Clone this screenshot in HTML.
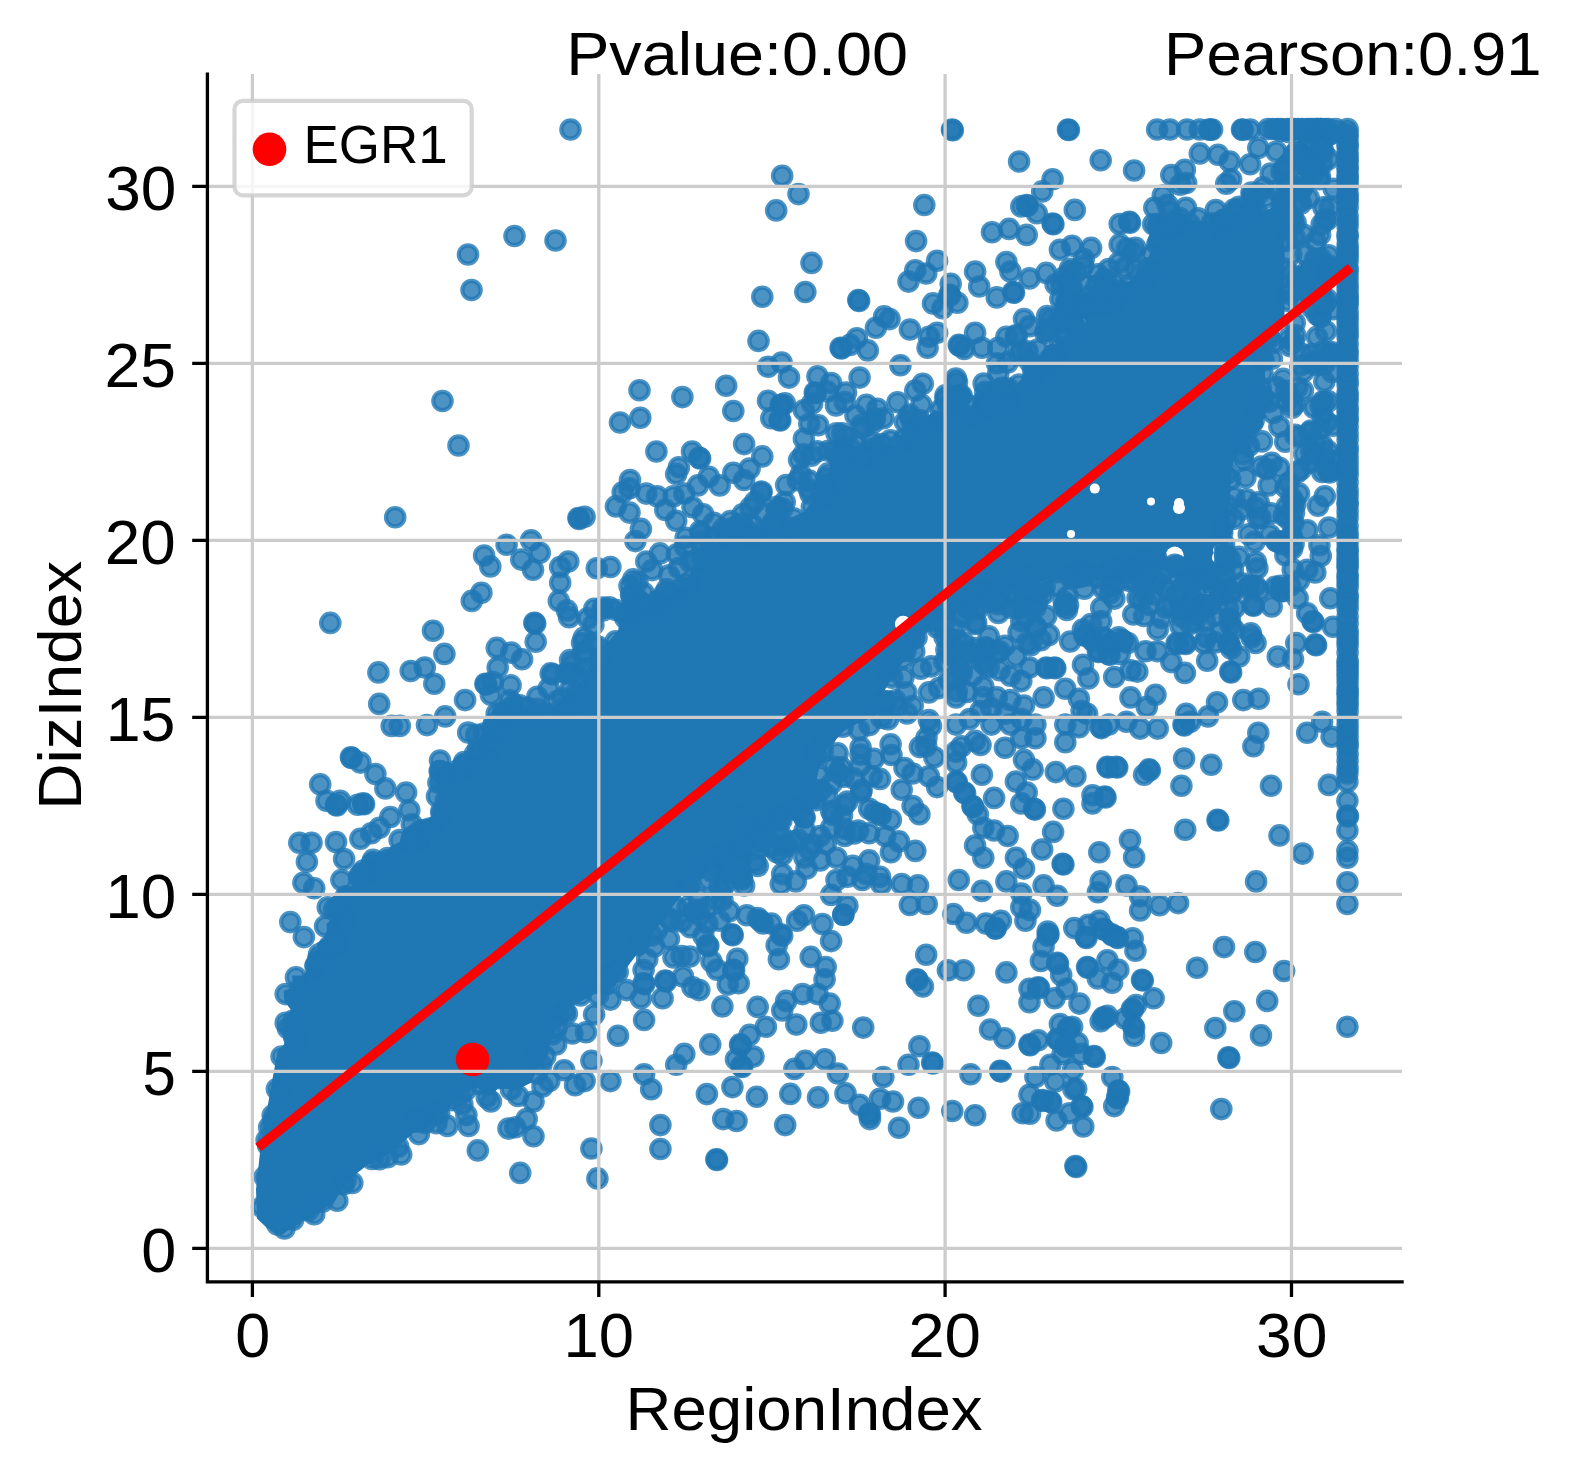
<!DOCTYPE html>
<html lang="en"><head><meta charset="utf-8"><title>RegionIndex vs DizIndex</title>
<style>html,body{margin:0;padding:0;background:#fff}body{width:1574px;height:1472px;overflow:hidden}svg{display:block}text{font-family:"Liberation Sans",sans-serif;fill:#000}.d{fill:#1f77b4;fill-opacity:.8;stroke:#1f77b4;stroke-opacity:.8;stroke-width:4.2}.g{stroke:#cccccc;stroke-width:3.3;fill:none}.k{stroke:#000;stroke-width:3.3;fill:none}</style></head><body>
<svg width="1574" height="1472" viewBox="0 0 1574 1472">
<rect width="1574" height="1472" fill="#fff"/>
<defs><clipPath id="ax"><rect x="207.4" y="74.0" width="1194.6" height="1207.9"/></clipPath></defs>
<g clip-path="url(#ax)">
<path d="M1284.5 197.0L1274.0 206.5L1245.5 219.5L1230.5 220.0L1213.5 223.5L1178.0 217.5L1168.5 221.5L1159.0 235.5L1143.5 267.0L1122.0 288.5L1104.0 296.0L1092.0 296.0L1082.0 293.0L1070.0 302.5L1069.0 325.0L1062.0 340.5L1049.5 351.5L1045.0 361.0L1036.5 371.0L1020.0 380.5L1007.5 394.5L994.0 401.0L977.0 404.0L959.0 412.5L944.5 413.0L934.0 410.0L914.5 430.5L889.5 448.5L873.5 456.5L864.5 459.0L852.5 459.0L837.0 453.0L832.0 460.0L828.0 474.5L816.0 497.0L803.5 512.0L790.0 518.5L777.0 520.0L728.5 537.5L709.0 547.5L697.5 559.0L689.5 574.0L665.0 601.5L651.5 608.0L635.5 609.0L624.0 615.5L618.0 630.5L610.0 640.0L601.0 646.0L597.5 653.5L590.5 661.5L583.0 678.5L575.0 686.5L568.5 690.0L559.5 702.0L549.5 708.0L541.5 710.0L521.5 710.5L508.5 707.0L501.5 716.5L486.0 727.0L478.5 747.5L473.0 755.5L440.5 771.5L436.0 778.5L438.0 796.5L432.5 815.0L402.0 840.5L391.0 846.5L378.5 860.5L357.0 866.5L354.0 883.5L349.5 887.0L342.0 886.5L338.0 890.5L333.0 902.0L326.5 907.5L334.0 916.0L333.0 919.5L326.5 923.5L327.0 938.0L316.5 943.0L318.0 949.5L305.0 973.0L301.5 975.5L292.0 975.5L293.5 987.0L283.5 991.0L284.5 1001.5L291.5 1010.5L283.0 1018.5L282.0 1029.5L287.5 1040.5L277.5 1051.5L261.0 1143.0L256.0 1189.5L257.0 1218.5L267.0 1228.0L281.5 1234.5L334.5 1202.0L342.0 1189.0L354.5 1175.0L367.5 1165.0L393.0 1151.5L425.0 1122.0L448.0 1112.0L452.5 1103.0L468.5 1089.5L477.5 1088.0L486.5 1095.5L491.0 1095.5L498.5 1088.0L516.5 1090.0L531.5 1082.5L537.0 1069.5L544.5 1064.0L546.5 1053.0L559.0 1020.5L574.5 1005.0L603.0 989.5L619.0 978.0L678.0 899.5L725.0 853.5L736.5 845.0L771.5 826.5L820.5 806.0L817.0 791.5L817.0 777.5L821.0 761.0L826.5 750.0L844.0 731.0L857.0 723.5L875.5 716.5L884.0 691.5L895.5 672.0L927.5 631.5L941.5 619.0L965.0 608.0L989.0 594.0L1016.5 585.5L1051.5 578.5L1070.0 577.5L1094.0 581.0L1144.5 569.5L1164.0 570.0L1202.5 577.5L1215.0 575.5L1225.0 561.0L1227.0 550.0L1231.5 472.0L1234.0 459.5L1246.0 435.5L1255.0 425.5L1265.0 418.0L1265.0 336.5L1284.5 321.0Z" fill="#1f77b4" fill-rule="evenodd"/>
<circle cx="1094.8" cy="488.6" r="5.0" fill="#fff"/>
<circle cx="1179.0" cy="508.0" r="6.0" fill="#fff"/>
<circle cx="1179.0" cy="503.0" r="5.0" fill="#fff"/>
<circle cx="1174.7" cy="555.6" r="9.0" fill="#fff"/>
<circle cx="1179.0" cy="566.0" r="6.0" fill="#fff"/>
<circle cx="1219.0" cy="557.8" r="7.0" fill="#fff"/>
<circle cx="1219.0" cy="550.0" r="6.0" fill="#fff"/>
<circle cx="1255.7" cy="549.0" r="6.0" fill="#fff"/>
<circle cx="1071.0" cy="534.0" r="4.0" fill="#fff"/>
<circle cx="1151.0" cy="501.6" r="4.0" fill="#fff"/>
<circle cx="776.7" cy="512.6" r="8.7" fill="#fff"/>
<circle cx="903.1" cy="624.0" r="8.2" fill="#fff"/>
<circle cx="903.1" cy="682.4" r="4.3" fill="#fff"/>
<circle cx="646.3" cy="524.8" r="8.2" fill="#fff"/>
<circle cx="1070.8" cy="311.0" r="6.0" fill="#fff"/>
<circle cx="1081.6" cy="323.2" r="4.9" fill="#fff"/>
<circle cx="986.0" cy="624.0" r="6.0" fill="#fff"/>
<circle cx="1024.0" cy="610.4" r="6.0" fill="#fff"/>
<g class="d">
<circle cx="1129.9" cy="580.9" r="9.2"/><circle cx="573.9" cy="703.0" r="9.2"/><circle cx="752.8" cy="525.3" r="9.2"/><circle cx="759.2" cy="848.4" r="9.2"/><circle cx="776.9" cy="852.3" r="9.2"/><circle cx="654.5" cy="946.6" r="9.2"/><circle cx="1304.1" cy="453.7" r="9.2"/><circle cx="1104.2" cy="279.3" r="9.2"/><circle cx="705.1" cy="862.1" r="9.2"/><circle cx="1246.6" cy="499.4" r="9.2"/><circle cx="345.7" cy="918.3" r="9.2"/><circle cx="573.1" cy="673.5" r="9.2"/><circle cx="1261.9" cy="441.4" r="9.2"/><circle cx="793.9" cy="518.3" r="9.2"/><circle cx="1253.9" cy="211.8" r="9.2"/><circle cx="657.5" cy="601.1" r="9.2"/><circle cx="1290.2" cy="585.8" r="9.2"/><circle cx="742.1" cy="523.6" r="9.2"/><circle cx="1096.7" cy="285.8" r="9.2"/><circle cx="1329.7" cy="207.3" r="9.2"/><circle cx="706.2" cy="561.5" r="9.2"/><circle cx="1009.1" cy="400.9" r="9.2"/><circle cx="1083.2" cy="265.9" r="9.2"/><circle cx="1224.1" cy="544.2" r="9.2"/><circle cx="1291.8" cy="535.6" r="9.2"/><circle cx="288.0" cy="1028.2" r="9.2"/><circle cx="273.6" cy="1127.2" r="9.2"/><circle cx="687.5" cy="907.1" r="9.2"/><circle cx="1285.2" cy="441.8" r="9.2"/><circle cx="914.3" cy="651.4" r="9.2"/><circle cx="883.4" cy="705.0" r="9.2"/><circle cx="371.1" cy="864.9" r="9.2"/><circle cx="1220.2" cy="223.1" r="9.2"/><circle cx="1011.0" cy="593.3" r="9.2"/><circle cx="920.8" cy="430.7" r="9.2"/><circle cx="626.2" cy="613.2" r="9.2"/><circle cx="301.1" cy="987.4" r="9.2"/><circle cx="880.2" cy="459.3" r="9.2"/><circle cx="550.5" cy="714.4" r="9.2"/><circle cx="1127.0" cy="248.6" r="9.2"/><circle cx="1086.0" cy="575.8" r="9.2"/><circle cx="687.2" cy="883.6" r="9.2"/><circle cx="1320.0" cy="177.0" r="9.2"/><circle cx="1308.7" cy="278.9" r="9.2"/><circle cx="293.8" cy="1020.3" r="9.2"/><circle cx="615.0" cy="971.3" r="9.2"/><circle cx="1303.8" cy="179.0" r="9.2"/><circle cx="937.0" cy="627.5" r="9.2"/><circle cx="1195.4" cy="614.7" r="9.2"/><circle cx="1285.8" cy="223.8" r="9.2"/><circle cx="1294.8" cy="322.8" r="9.2"/><circle cx="617.7" cy="971.9" r="9.2"/><circle cx="1316.8" cy="129.0" r="9.2"/><circle cx="609.2" cy="607.3" r="9.2"/><circle cx="445.6" cy="800.4" r="9.2"/><circle cx="271.4" cy="1148.4" r="9.2"/><circle cx="1286.5" cy="540.0" r="9.2"/><circle cx="1234.0" cy="209.6" r="9.2"/><circle cx="826.4" cy="478.1" r="9.2"/><circle cx="1132.7" cy="569.2" r="9.2"/><circle cx="799.1" cy="459.9" r="9.2"/><circle cx="1157.7" cy="226.7" r="9.2"/><circle cx="1262.2" cy="359.3" r="9.2"/><circle cx="594.3" cy="608.7" r="9.2"/><circle cx="359.4" cy="878.8" r="9.2"/><circle cx="1078.2" cy="569.4" r="9.2"/><circle cx="1307.5" cy="168.1" r="9.2"/><circle cx="915.3" cy="390.5" r="9.2"/><circle cx="836.0" cy="405.4" r="9.2"/><circle cx="658.4" cy="605.6" r="9.2"/><circle cx="514.0" cy="705.2" r="9.2"/><circle cx="1045.2" cy="333.1" r="9.2"/><circle cx="987.0" cy="648.9" r="9.2"/><circle cx="564.4" cy="1010.8" r="9.2"/><circle cx="339.4" cy="926.2" r="9.2"/><circle cx="1333.7" cy="188.7" r="9.2"/><circle cx="1320.4" cy="292.0" r="9.2"/><circle cx="747.0" cy="831.3" r="9.2"/><circle cx="844.2" cy="805.3" r="9.2"/><circle cx="1324.8" cy="363.7" r="9.2"/><circle cx="895.4" cy="700.4" r="9.2"/><circle cx="919.9" cy="747.1" r="9.2"/><circle cx="931.2" cy="666.4" r="9.2"/><circle cx="836.0" cy="482.7" r="9.2"/><circle cx="1268.7" cy="485.4" r="9.2"/><circle cx="1154.3" cy="207.8" r="9.2"/><circle cx="1066.4" cy="319.9" r="9.2"/><circle cx="1156.6" cy="559.1" r="9.2"/><circle cx="1283.2" cy="378.9" r="9.2"/><circle cx="550.7" cy="1018.9" r="9.2"/><circle cx="570.1" cy="660.1" r="9.2"/><circle cx="643.5" cy="604.5" r="9.2"/><circle cx="1302.5" cy="187.1" r="9.2"/><circle cx="492.9" cy="682.1" r="9.2"/><circle cx="637.4" cy="581.9" r="9.2"/><circle cx="1309.3" cy="141.5" r="9.2"/><circle cx="694.8" cy="870.6" r="9.2"/><circle cx="921.4" cy="404.7" r="9.2"/><circle cx="1046.3" cy="330.4" r="9.2"/><circle cx="584.5" cy="651.7" r="9.2"/><circle cx="1301.5" cy="189.2" r="9.2"/><circle cx="1276.2" cy="541.0" r="9.2"/><circle cx="1287.5" cy="300.8" r="9.2"/><circle cx="722.0" cy="891.6" r="9.2"/><circle cx="999.9" cy="582.5" r="9.2"/><circle cx="998.3" cy="612.9" r="9.2"/><circle cx="858.9" cy="730.3" r="9.2"/><circle cx="1251.5" cy="192.6" r="9.2"/><circle cx="1124.7" cy="565.0" r="9.2"/><circle cx="779.9" cy="833.2" r="9.2"/><circle cx="1270.7" cy="173.6" r="9.2"/><circle cx="1253.6" cy="420.6" r="9.2"/><circle cx="1294.8" cy="237.8" r="9.2"/><circle cx="797.8" cy="480.2" r="9.2"/><circle cx="1295.6" cy="222.4" r="9.2"/><circle cx="1314.7" cy="163.5" r="9.2"/><circle cx="1286.7" cy="187.8" r="9.2"/><circle cx="580.5" cy="995.5" r="9.2"/><circle cx="1037.8" cy="349.5" r="9.2"/><circle cx="1186.1" cy="183.0" r="9.2"/><circle cx="1313.9" cy="407.8" r="9.2"/><circle cx="777.8" cy="814.2" r="9.2"/><circle cx="295.4" cy="1044.6" r="9.2"/><circle cx="951.3" cy="419.1" r="9.2"/><circle cx="1007.7" cy="362.4" r="9.2"/><circle cx="276.2" cy="1118.5" r="9.2"/><circle cx="632.4" cy="605.3" r="9.2"/><circle cx="1269.1" cy="402.1" r="9.2"/><circle cx="1033.1" cy="369.4" r="9.2"/><circle cx="1262.9" cy="187.4" r="9.2"/><circle cx="716.0" cy="867.8" r="9.2"/><circle cx="772.2" cy="523.2" r="9.2"/><circle cx="945.1" cy="610.0" r="9.2"/><circle cx="1066.9" cy="609.9" r="9.2"/><circle cx="943.7" cy="625.4" r="9.2"/><circle cx="1047.2" cy="316.1" r="9.2"/><circle cx="957.4" cy="406.9" r="9.2"/><circle cx="1315.7" cy="362.2" r="9.2"/><circle cx="1289.2" cy="338.1" r="9.2"/><circle cx="582.1" cy="643.0" r="9.2"/><circle cx="1331.1" cy="352.1" r="9.2"/><circle cx="1237.6" cy="210.8" r="9.2"/><circle cx="514.3" cy="714.2" r="9.2"/><circle cx="1332.1" cy="371.9" r="9.2"/><circle cx="818.2" cy="425.2" r="9.2"/><circle cx="1322.8" cy="264.4" r="9.2"/><circle cx="1142.0" cy="562.9" r="9.2"/><circle cx="724.4" cy="865.2" r="9.2"/><circle cx="959.8" cy="398.1" r="9.2"/><circle cx="1258.6" cy="502.3" r="9.2"/><circle cx="1313.7" cy="173.5" r="9.2"/><circle cx="460.5" cy="1094.8" r="9.2"/><circle cx="726.0" cy="541.5" r="9.2"/><circle cx="1314.7" cy="157.4" r="9.2"/><circle cx="1171.9" cy="606.3" r="9.2"/><circle cx="1233.8" cy="518.7" r="9.2"/><circle cx="1055.6" cy="284.2" r="9.2"/><circle cx="1082.9" cy="629.5" r="9.2"/><circle cx="1286.8" cy="506.4" r="9.2"/><circle cx="1285.4" cy="555.2" r="9.2"/><circle cx="1297.3" cy="387.5" r="9.2"/><circle cx="1291.2" cy="254.5" r="9.2"/><circle cx="676.9" cy="554.3" r="9.2"/><circle cx="847.3" cy="801.6" r="9.2"/><circle cx="1127.9" cy="286.9" r="9.2"/><circle cx="1300.2" cy="365.4" r="9.2"/><circle cx="966.2" cy="606.7" r="9.2"/><circle cx="480.3" cy="751.9" r="9.2"/><circle cx="959.9" cy="395.6" r="9.2"/><circle cx="787.5" cy="527.3" r="9.2"/><circle cx="1058.4" cy="321.6" r="9.2"/><circle cx="753.7" cy="537.8" r="9.2"/><circle cx="1302.4" cy="354.1" r="9.2"/><circle cx="1294.5" cy="404.3" r="9.2"/><circle cx="456.6" cy="771.0" r="9.2"/><circle cx="804.4" cy="857.5" r="9.2"/><circle cx="1196.8" cy="571.4" r="9.2"/><circle cx="944.5" cy="609.9" r="9.2"/><circle cx="333.8" cy="946.4" r="9.2"/><circle cx="983.1" cy="401.5" r="9.2"/><circle cx="1275.3" cy="586.7" r="9.2"/><circle cx="570.6" cy="706.9" r="9.2"/><circle cx="343.7" cy="1184.2" r="9.2"/><circle cx="1250.0" cy="220.8" r="9.2"/><circle cx="268.1" cy="1145.2" r="9.2"/><circle cx="1260.8" cy="387.8" r="9.2"/><circle cx="1276.4" cy="387.1" r="9.2"/><circle cx="983.4" cy="406.6" r="9.2"/><circle cx="851.7" cy="464.2" r="9.2"/><circle cx="1320.6" cy="129.0" r="9.2"/><circle cx="1029.7" cy="361.8" r="9.2"/><circle cx="541.3" cy="1064.8" r="9.2"/><circle cx="1053.0" cy="355.1" r="9.2"/><circle cx="985.9" cy="647.2" r="9.2"/><circle cx="842.8" cy="726.8" r="9.2"/><circle cx="1314.1" cy="157.5" r="9.2"/><circle cx="911.6" cy="439.6" r="9.2"/><circle cx="874.6" cy="812.3" r="9.2"/><circle cx="1179.9" cy="218.1" r="9.2"/><circle cx="1186.1" cy="569.1" r="9.2"/><circle cx="1180.3" cy="605.1" r="9.2"/><circle cx="1280.6" cy="585.9" r="9.2"/><circle cx="570.2" cy="689.3" r="9.2"/><circle cx="1292.1" cy="407.7" r="9.2"/><circle cx="440.0" cy="760.5" r="9.2"/><circle cx="399.6" cy="840.1" r="9.2"/><circle cx="701.5" cy="533.2" r="9.2"/><circle cx="1323.1" cy="305.3" r="9.2"/><circle cx="1020.1" cy="587.3" r="9.2"/><circle cx="1119.2" cy="292.7" r="9.2"/><circle cx="971.8" cy="416.1" r="9.2"/><circle cx="519.7" cy="705.3" r="9.2"/><circle cx="602.9" cy="607.6" r="9.2"/><circle cx="740.8" cy="857.2" r="9.2"/><circle cx="1315.4" cy="442.0" r="9.2"/><circle cx="710.9" cy="856.3" r="9.2"/><circle cx="907.0" cy="713.4" r="9.2"/><circle cx="1063.7" cy="335.6" r="9.2"/><circle cx="811.3" cy="455.8" r="9.2"/><circle cx="1223.2" cy="231.7" r="9.2"/><circle cx="854.3" cy="833.4" r="9.2"/><circle cx="637.4" cy="945.3" r="9.2"/><circle cx="1118.9" cy="262.7" r="9.2"/><circle cx="1113.8" cy="289.7" r="9.2"/><circle cx="1110.0" cy="593.2" r="9.2"/><circle cx="828.6" cy="450.8" r="9.2"/><circle cx="784.7" cy="502.1" r="9.2"/><circle cx="1262.5" cy="373.3" r="9.2"/><circle cx="419.7" cy="830.9" r="9.2"/><circle cx="1233.6" cy="230.9" r="9.2"/><circle cx="957.0" cy="400.1" r="9.2"/><circle cx="1112.4" cy="303.6" r="9.2"/><circle cx="643.6" cy="593.0" r="9.2"/><circle cx="846.1" cy="437.0" r="9.2"/><circle cx="1117.1" cy="582.4" r="9.2"/><circle cx="913.1" cy="639.0" r="9.2"/><circle cx="419.3" cy="1121.1" r="9.2"/><circle cx="1017.8" cy="355.3" r="9.2"/><circle cx="634.7" cy="613.1" r="9.2"/><circle cx="1227.7" cy="505.6" r="9.2"/><circle cx="837.9" cy="772.4" r="9.2"/><circle cx="736.2" cy="850.5" r="9.2"/><circle cx="1180.4" cy="625.8" r="9.2"/><circle cx="1330.3" cy="353.5" r="9.2"/><circle cx="538.2" cy="1048.8" r="9.2"/><circle cx="1298.1" cy="300.9" r="9.2"/><circle cx="1322.2" cy="444.7" r="9.2"/><circle cx="1254.5" cy="541.8" r="9.2"/><circle cx="1297.5" cy="472.3" r="9.2"/><circle cx="968.9" cy="608.7" r="9.2"/><circle cx="532.2" cy="715.5" r="9.2"/><circle cx="843.6" cy="776.8" r="9.2"/><circle cx="956.0" cy="397.7" r="9.2"/><circle cx="1000.3" cy="600.4" r="9.2"/><circle cx="1074.8" cy="577.7" r="9.2"/><circle cx="1162.5" cy="230.6" r="9.2"/><circle cx="1232.2" cy="224.2" r="9.2"/><circle cx="1230.2" cy="559.5" r="9.2"/><circle cx="1065.3" cy="309.0" r="9.2"/><circle cx="898.2" cy="446.1" r="9.2"/><circle cx="1259.4" cy="214.8" r="9.2"/><circle cx="1316.9" cy="365.2" r="9.2"/><circle cx="817.3" cy="451.3" r="9.2"/><circle cx="713.6" cy="537.7" r="9.2"/><circle cx="1299.0" cy="200.7" r="9.2"/><circle cx="496.1" cy="729.7" r="9.2"/><circle cx="771.4" cy="822.3" r="9.2"/><circle cx="722.4" cy="899.9" r="9.2"/><circle cx="1006.4" cy="392.0" r="9.2"/><circle cx="1276.6" cy="191.1" r="9.2"/><circle cx="329.4" cy="946.3" r="9.2"/><circle cx="821.2" cy="790.0" r="9.2"/><circle cx="386.8" cy="862.4" r="9.2"/><circle cx="1328.4" cy="158.9" r="9.2"/><circle cx="602.9" cy="610.5" r="9.2"/><circle cx="293.2" cy="1219.8" r="9.2"/><circle cx="1293.4" cy="502.4" r="9.2"/><circle cx="1295.4" cy="504.1" r="9.2"/><circle cx="678.9" cy="568.0" r="9.2"/><circle cx="1089.1" cy="295.8" r="9.2"/><circle cx="1224.5" cy="573.6" r="9.2"/><circle cx="1249.0" cy="445.8" r="9.2"/><circle cx="1103.2" cy="304.8" r="9.2"/><circle cx="983.6" cy="592.8" r="9.2"/><circle cx="753.1" cy="532.9" r="9.2"/><circle cx="804.7" cy="830.2" r="9.2"/><circle cx="1269.4" cy="338.5" r="9.2"/><circle cx="598.3" cy="646.7" r="9.2"/><circle cx="1215.8" cy="210.0" r="9.2"/><circle cx="640.2" cy="941.3" r="9.2"/><circle cx="1177.2" cy="223.2" r="9.2"/><circle cx="272.7" cy="1115.5" r="9.2"/><circle cx="910.8" cy="418.9" r="9.2"/><circle cx="904.2" cy="438.5" r="9.2"/><circle cx="335.3" cy="938.5" r="9.2"/><circle cx="625.1" cy="617.7" r="9.2"/><circle cx="800.8" cy="474.4" r="9.2"/><circle cx="1063.8" cy="601.5" r="9.2"/><circle cx="1164.8" cy="228.2" r="9.2"/><circle cx="1268.3" cy="336.0" r="9.2"/><circle cx="372.0" cy="1158.9" r="9.2"/><circle cx="877.8" cy="446.9" r="9.2"/><circle cx="755.3" cy="862.1" r="9.2"/><circle cx="890.6" cy="744.2" r="9.2"/><circle cx="489.3" cy="749.6" r="9.2"/><circle cx="379.4" cy="1159.2" r="9.2"/><circle cx="502.0" cy="717.3" r="9.2"/><circle cx="931.0" cy="725.9" r="9.2"/><circle cx="897.5" cy="402.3" r="9.2"/><circle cx="1032.4" cy="379.6" r="9.2"/><circle cx="808.8" cy="489.1" r="9.2"/><circle cx="1331.5" cy="460.2" r="9.2"/><circle cx="1046.6" cy="367.5" r="9.2"/><circle cx="786.2" cy="485.1" r="9.2"/><circle cx="1025.4" cy="616.9" r="9.2"/><circle cx="837.6" cy="753.2" r="9.2"/><circle cx="319.1" cy="954.3" r="9.2"/><circle cx="988.7" cy="636.3" r="9.2"/><circle cx="1049.8" cy="329.3" r="9.2"/><circle cx="1167.6" cy="204.8" r="9.2"/><circle cx="888.0" cy="719.2" r="9.2"/><circle cx="993.6" cy="411.4" r="9.2"/><circle cx="1327.1" cy="299.3" r="9.2"/><circle cx="723.9" cy="854.7" r="9.2"/><circle cx="725.4" cy="537.1" r="9.2"/><circle cx="558.8" cy="1016.2" r="9.2"/><circle cx="1004.5" cy="402.4" r="9.2"/><circle cx="815.3" cy="752.6" r="9.2"/><circle cx="1303.3" cy="234.6" r="9.2"/><circle cx="479.9" cy="1084.2" r="9.2"/><circle cx="897.2" cy="707.3" r="9.2"/><circle cx="1222.1" cy="527.2" r="9.2"/><circle cx="476.2" cy="734.8" r="9.2"/><circle cx="484.2" cy="733.5" r="9.2"/><circle cx="444.9" cy="773.0" r="9.2"/><circle cx="1266.6" cy="469.1" r="9.2"/><circle cx="638.6" cy="600.2" r="9.2"/><circle cx="318.0" cy="959.4" r="9.2"/><circle cx="722.9" cy="528.9" r="9.2"/><circle cx="284.5" cy="1228.4" r="9.2"/><circle cx="1305.7" cy="254.5" r="9.2"/><circle cx="1320.8" cy="428.5" r="9.2"/><circle cx="527.7" cy="707.8" r="9.2"/><circle cx="537.5" cy="708.7" r="9.2"/><circle cx="945.5" cy="399.1" r="9.2"/><circle cx="1118.7" cy="637.2" r="9.2"/><circle cx="1079.1" cy="308.5" r="9.2"/><circle cx="441.2" cy="811.8" r="9.2"/><circle cx="576.7" cy="692.0" r="9.2"/><circle cx="945.5" cy="395.4" r="9.2"/><circle cx="458.5" cy="774.6" r="9.2"/><circle cx="1286.1" cy="206.8" r="9.2"/><circle cx="1252.1" cy="195.9" r="9.2"/><circle cx="1317.0" cy="314.4" r="9.2"/><circle cx="739.8" cy="848.7" r="9.2"/><circle cx="920.8" cy="668.7" r="9.2"/><circle cx="494.8" cy="730.9" r="9.2"/><circle cx="493.4" cy="727.2" r="9.2"/><circle cx="1301.6" cy="158.1" r="9.2"/><circle cx="566.9" cy="1013.7" r="9.2"/><circle cx="810.5" cy="493.9" r="9.2"/><circle cx="1320.1" cy="234.7" r="9.2"/><circle cx="601.3" cy="658.5" r="9.2"/><circle cx="544.7" cy="713.4" r="9.2"/><circle cx="1018.8" cy="384.6" r="9.2"/><circle cx="1190.0" cy="224.2" r="9.2"/><circle cx="728.3" cy="537.6" r="9.2"/><circle cx="502.8" cy="712.2" r="9.2"/><circle cx="1292.7" cy="569.4" r="9.2"/><circle cx="957.9" cy="408.8" r="9.2"/><circle cx="537.4" cy="1051.3" r="9.2"/><circle cx="984.0" cy="663.9" r="9.2"/><circle cx="1327.2" cy="219.7" r="9.2"/><circle cx="1303.8" cy="371.2" r="9.2"/><circle cx="962.1" cy="614.5" r="9.2"/><circle cx="592.7" cy="643.2" r="9.2"/><circle cx="583.7" cy="637.9" r="9.2"/><circle cx="689.9" cy="885.0" r="9.2"/><circle cx="812.6" cy="844.3" r="9.2"/><circle cx="976.3" cy="606.4" r="9.2"/><circle cx="753.5" cy="828.7" r="9.2"/><circle cx="1322.5" cy="415.4" r="9.2"/><circle cx="1250.8" cy="633.3" r="9.2"/><circle cx="991.3" cy="392.2" r="9.2"/><circle cx="776.9" cy="506.7" r="9.2"/><circle cx="1295.0" cy="434.9" r="9.2"/><circle cx="742.0" cy="879.4" r="9.2"/><circle cx="294.8" cy="1038.4" r="9.2"/><circle cx="1325.1" cy="219.7" r="9.2"/><circle cx="1079.8" cy="571.8" r="9.2"/><circle cx="1288.8" cy="229.3" r="9.2"/><circle cx="663.9" cy="594.4" r="9.2"/><circle cx="711.9" cy="538.3" r="9.2"/><circle cx="676.2" cy="907.6" r="9.2"/><circle cx="944.5" cy="637.1" r="9.2"/><circle cx="1169.9" cy="211.5" r="9.2"/><circle cx="1079.6" cy="577.3" r="9.2"/><circle cx="1136.0" cy="573.9" r="9.2"/><circle cx="1281.8" cy="543.9" r="9.2"/><circle cx="492.6" cy="727.8" r="9.2"/><circle cx="1066.8" cy="304.1" r="9.2"/><circle cx="749.9" cy="535.9" r="9.2"/><circle cx="1152.3" cy="254.7" r="9.2"/><circle cx="313.6" cy="1203.7" r="9.2"/><circle cx="512.4" cy="717.1" r="9.2"/><circle cx="1109.6" cy="573.9" r="9.2"/><circle cx="492.5" cy="743.6" r="9.2"/><circle cx="679.4" cy="598.2" r="9.2"/><circle cx="811.9" cy="506.9" r="9.2"/><circle cx="301.4" cy="1013.2" r="9.2"/><circle cx="1263.0" cy="397.5" r="9.2"/><circle cx="1191.4" cy="581.8" r="9.2"/><circle cx="985.2" cy="391.8" r="9.2"/><circle cx="311.3" cy="982.3" r="9.2"/><circle cx="976.2" cy="622.7" r="9.2"/><circle cx="340.6" cy="904.4" r="9.2"/><circle cx="946.9" cy="422.8" r="9.2"/><circle cx="1226.0" cy="520.3" r="9.2"/><circle cx="1060.4" cy="299.1" r="9.2"/><circle cx="1044.6" cy="587.0" r="9.2"/><circle cx="316.1" cy="965.2" r="9.2"/><circle cx="1105.7" cy="280.1" r="9.2"/><circle cx="1033.7" cy="380.9" r="9.2"/><circle cx="1055.0" cy="360.4" r="9.2"/><circle cx="660.1" cy="909.2" r="9.2"/><circle cx="1050.5" cy="318.7" r="9.2"/><circle cx="590.6" cy="672.5" r="9.2"/><circle cx="685.6" cy="537.7" r="9.2"/><circle cx="633.6" cy="620.4" r="9.2"/><circle cx="872.0" cy="442.6" r="9.2"/><circle cx="1144.4" cy="559.3" r="9.2"/><circle cx="682.0" cy="588.1" r="9.2"/><circle cx="932.4" cy="621.1" r="9.2"/><circle cx="1195.8" cy="606.1" r="9.2"/><circle cx="944.5" cy="661.7" r="9.2"/><circle cx="1323.5" cy="207.4" r="9.2"/><circle cx="1182.4" cy="568.3" r="9.2"/><circle cx="1241.5" cy="509.6" r="9.2"/><circle cx="507.5" cy="712.4" r="9.2"/><circle cx="1277.4" cy="541.7" r="9.2"/><circle cx="557.0" cy="701.3" r="9.2"/><circle cx="1168.7" cy="567.9" r="9.2"/><circle cx="1320.4" cy="316.8" r="9.2"/><circle cx="1159.9" cy="238.9" r="9.2"/><circle cx="572.5" cy="663.9" r="9.2"/><circle cx="537.5" cy="716.1" r="9.2"/><circle cx="1157.3" cy="244.5" r="9.2"/><circle cx="948.9" cy="639.0" r="9.2"/><circle cx="782.3" cy="508.3" r="9.2"/><circle cx="489.5" cy="742.7" r="9.2"/><circle cx="465.9" cy="1089.9" r="9.2"/><circle cx="1310.1" cy="462.8" r="9.2"/><circle cx="499.5" cy="1078.2" r="9.2"/><circle cx="833.9" cy="766.7" r="9.2"/><circle cx="1326.5" cy="270.9" r="9.2"/><circle cx="905.5" cy="650.9" r="9.2"/><circle cx="1291.2" cy="274.3" r="9.2"/><circle cx="800.3" cy="810.8" r="9.2"/><circle cx="1326.6" cy="277.2" r="9.2"/><circle cx="280.7" cy="1094.0" r="9.2"/><circle cx="1333.2" cy="309.3" r="9.2"/><circle cx="1209.1" cy="232.4" r="9.2"/><circle cx="1198.1" cy="218.4" r="9.2"/><circle cx="397.5" cy="856.1" r="9.2"/><circle cx="1239.1" cy="206.8" r="9.2"/><circle cx="669.1" cy="575.4" r="9.2"/><circle cx="417.6" cy="841.1" r="9.2"/><circle cx="1143.3" cy="582.9" r="9.2"/><circle cx="844.2" cy="451.2" r="9.2"/><circle cx="670.8" cy="593.9" r="9.2"/><circle cx="859.5" cy="468.6" r="9.2"/><circle cx="1293.6" cy="543.6" r="9.2"/><circle cx="416.6" cy="841.3" r="9.2"/><circle cx="1322.2" cy="472.0" r="9.2"/><circle cx="440.4" cy="771.4" r="9.2"/><circle cx="1320.6" cy="258.2" r="9.2"/><circle cx="883.1" cy="456.6" r="9.2"/><circle cx="954.5" cy="629.4" r="9.2"/><circle cx="1225.1" cy="556.4" r="9.2"/><circle cx="842.2" cy="433.4" r="9.2"/><circle cx="1296.5" cy="281.3" r="9.2"/><circle cx="1174.7" cy="225.0" r="9.2"/><circle cx="631.6" cy="610.0" r="9.2"/><circle cx="1009.7" cy="404.4" r="9.2"/><circle cx="1191.3" cy="609.2" r="9.2"/><circle cx="871.3" cy="449.1" r="9.2"/><circle cx="1249.1" cy="585.9" r="9.2"/><circle cx="1204.9" cy="620.9" r="9.2"/><circle cx="606.2" cy="978.5" r="9.2"/><circle cx="850.9" cy="448.6" r="9.2"/><circle cx="867.5" cy="457.8" r="9.2"/><circle cx="1186.5" cy="606.8" r="9.2"/><circle cx="1324.3" cy="381.5" r="9.2"/><circle cx="1285.4" cy="268.9" r="9.2"/><circle cx="1315.6" cy="241.8" r="9.2"/><circle cx="550.7" cy="673.4" r="9.2"/><circle cx="372.5" cy="863.0" r="9.2"/><circle cx="1317.0" cy="336.9" r="9.2"/><circle cx="561.6" cy="714.8" r="9.2"/><circle cx="1226.4" cy="473.8" r="9.2"/><circle cx="1298.2" cy="277.4" r="9.2"/><circle cx="1321.1" cy="144.4" r="9.2"/><circle cx="1260.7" cy="353.7" r="9.2"/><circle cx="738.1" cy="860.4" r="9.2"/><circle cx="1068.4" cy="346.6" r="9.2"/><circle cx="941.9" cy="423.1" r="9.2"/><circle cx="1290.0" cy="346.1" r="9.2"/><circle cx="429.8" cy="828.6" r="9.2"/><circle cx="875.0" cy="418.5" r="9.2"/><circle cx="772.6" cy="524.7" r="9.2"/><circle cx="883.5" cy="418.3" r="9.2"/><circle cx="1034.9" cy="371.8" r="9.2"/><circle cx="975.0" cy="597.5" r="9.2"/><circle cx="758.9" cy="831.9" r="9.2"/><circle cx="1211.7" cy="223.3" r="9.2"/><circle cx="387.6" cy="858.0" r="9.2"/><circle cx="371.9" cy="1151.3" r="9.2"/><circle cx="725.4" cy="883.2" r="9.2"/><circle cx="490.4" cy="746.0" r="9.2"/><circle cx="926.5" cy="737.9" r="9.2"/><circle cx="1327.3" cy="357.0" r="9.2"/><circle cx="1071.7" cy="287.5" r="9.2"/><circle cx="337.9" cy="906.9" r="9.2"/><circle cx="1226.3" cy="588.3" r="9.2"/><circle cx="1137.7" cy="567.7" r="9.2"/><circle cx="424.3" cy="830.1" r="9.2"/><circle cx="863.8" cy="427.6" r="9.2"/><circle cx="1215.2" cy="642.4" r="9.2"/><circle cx="1290.2" cy="396.2" r="9.2"/><circle cx="1213.3" cy="592.6" r="9.2"/><circle cx="1123.6" cy="291.2" r="9.2"/><circle cx="844.6" cy="450.8" r="9.2"/><circle cx="694.1" cy="561.1" r="9.2"/><circle cx="496.7" cy="713.6" r="9.2"/><circle cx="1027.6" cy="351.3" r="9.2"/><circle cx="761.6" cy="491.6" r="9.2"/><circle cx="266.6" cy="1140.0" r="9.2"/><circle cx="1070.0" cy="272.2" r="9.2"/><circle cx="766.4" cy="836.1" r="9.2"/><circle cx="1086.6" cy="285.4" r="9.2"/><circle cx="854.0" cy="778.6" r="9.2"/><circle cx="1325.9" cy="331.2" r="9.2"/><circle cx="641.3" cy="607.4" r="9.2"/><circle cx="1135.8" cy="268.9" r="9.2"/><circle cx="1332.1" cy="470.0" r="9.2"/><circle cx="656.1" cy="612.1" r="9.2"/><circle cx="1332.8" cy="425.7" r="9.2"/><circle cx="828.1" cy="473.4" r="9.2"/><circle cx="1269.8" cy="534.7" r="9.2"/><circle cx="974.6" cy="623.9" r="9.2"/><circle cx="1288.6" cy="131.9" r="9.2"/><circle cx="903.4" cy="677.6" r="9.2"/><circle cx="1083.8" cy="259.0" r="9.2"/><circle cx="474.3" cy="767.4" r="9.2"/><circle cx="1299.2" cy="153.1" r="9.2"/><circle cx="1303.3" cy="164.6" r="9.2"/><circle cx="1029.0" cy="577.6" r="9.2"/><circle cx="737.3" cy="527.1" r="9.2"/><circle cx="1324.2" cy="456.3" r="9.2"/><circle cx="1018.3" cy="608.4" r="9.2"/><circle cx="1135.4" cy="247.8" r="9.2"/><circle cx="264.6" cy="1176.9" r="9.2"/><circle cx="509.7" cy="700.2" r="9.2"/><circle cx="1304.0" cy="158.9" r="9.2"/><circle cx="1311.7" cy="132.8" r="9.2"/><circle cx="373.0" cy="859.9" r="9.2"/><circle cx="1053.7" cy="364.3" r="9.2"/><circle cx="1123.2" cy="574.4" r="9.2"/><circle cx="660.7" cy="600.4" r="9.2"/><circle cx="924.9" cy="425.5" r="9.2"/><circle cx="902.9" cy="658.8" r="9.2"/><circle cx="1279.4" cy="426.6" r="9.2"/><circle cx="1081.6" cy="305.7" r="9.2"/><circle cx="629.7" cy="627.3" r="9.2"/><circle cx="345.7" cy="1180.0" r="9.2"/><circle cx="1272.9" cy="342.9" r="9.2"/><circle cx="1174.7" cy="564.9" r="9.2"/><circle cx="1325.8" cy="276.9" r="9.2"/><circle cx="763.5" cy="513.3" r="9.2"/><circle cx="1182.0" cy="617.0" r="9.2"/><circle cx="841.2" cy="462.8" r="9.2"/><circle cx="359.2" cy="875.9" r="9.2"/><circle cx="1283.7" cy="515.6" r="9.2"/><circle cx="411.0" cy="844.2" r="9.2"/><circle cx="922.8" cy="383.8" r="9.2"/><circle cx="1207.2" cy="577.1" r="9.2"/><circle cx="1180.2" cy="184.8" r="9.2"/><circle cx="1270.7" cy="513.3" r="9.2"/><circle cx="739.3" cy="845.9" r="9.2"/><circle cx="601.4" cy="983.8" r="9.2"/><circle cx="798.5" cy="839.7" r="9.2"/><circle cx="1022.3" cy="605.2" r="9.2"/><circle cx="928.9" cy="720.1" r="9.2"/><circle cx="873.2" cy="422.7" r="9.2"/><circle cx="1132.9" cy="252.1" r="9.2"/><circle cx="1330.1" cy="134.2" r="9.2"/><circle cx="697.7" cy="909.8" r="9.2"/><circle cx="666.8" cy="589.4" r="9.2"/><circle cx="1247.8" cy="427.5" r="9.2"/><circle cx="1271.7" cy="462.8" r="9.2"/><circle cx="1286.3" cy="390.9" r="9.2"/><circle cx="1279.4" cy="467.8" r="9.2"/><circle cx="1328.5" cy="255.3" r="9.2"/><circle cx="562.5" cy="698.3" r="9.2"/><circle cx="1253.5" cy="202.8" r="9.2"/><circle cx="548.7" cy="688.6" r="9.2"/><circle cx="1271.9" cy="358.7" r="9.2"/><circle cx="970.6" cy="652.8" r="9.2"/><circle cx="1323.5" cy="152.3" r="9.2"/><circle cx="860.6" cy="747.6" r="9.2"/><circle cx="1192.2" cy="579.8" r="9.2"/><circle cx="1286.4" cy="400.6" r="9.2"/><circle cx="890.4" cy="440.3" r="9.2"/><circle cx="738.1" cy="837.8" r="9.2"/><circle cx="1048.9" cy="360.2" r="9.2"/><circle cx="816.0" cy="756.4" r="9.2"/><circle cx="1030.7" cy="645.3" r="9.2"/><circle cx="1117.5" cy="569.2" r="9.2"/><circle cx="1210.1" cy="605.3" r="9.2"/><circle cx="1310.1" cy="294.0" r="9.2"/><circle cx="1320.6" cy="406.0" r="9.2"/><circle cx="1321.0" cy="296.9" r="9.2"/><circle cx="988.9" cy="601.7" r="9.2"/><circle cx="730.5" cy="521.1" r="9.2"/><circle cx="328.2" cy="948.7" r="9.2"/><circle cx="633.2" cy="579.4" r="9.2"/><circle cx="424.9" cy="1123.1" r="9.2"/><circle cx="1225.1" cy="553.1" r="9.2"/><circle cx="1248.8" cy="534.3" r="9.2"/><circle cx="1294.4" cy="191.1" r="9.2"/><circle cx="335.1" cy="938.9" r="9.2"/><circle cx="1153.6" cy="594.4" r="9.2"/><circle cx="1070.8" cy="302.5" r="9.2"/><circle cx="688.0" cy="886.3" r="9.2"/><circle cx="464.1" cy="764.9" r="9.2"/><circle cx="1295.4" cy="335.4" r="9.2"/><circle cx="372.9" cy="871.5" r="9.2"/><circle cx="946.4" cy="649.7" r="9.2"/><circle cx="1172.4" cy="225.4" r="9.2"/><circle cx="439.7" cy="771.0" r="9.2"/><circle cx="1288.9" cy="482.8" r="9.2"/><circle cx="1328.9" cy="265.5" r="9.2"/><circle cx="906.3" cy="692.2" r="9.2"/><circle cx="1108.7" cy="269.1" r="9.2"/><circle cx="510.6" cy="685.3" r="9.2"/><circle cx="1148.3" cy="560.1" r="9.2"/><circle cx="787.1" cy="846.5" r="9.2"/><circle cx="1226.2" cy="183.7" r="9.2"/><circle cx="643.6" cy="970.0" r="9.2"/><circle cx="1132.8" cy="293.4" r="9.2"/><circle cx="1310.4" cy="363.3" r="9.2"/><circle cx="881.5" cy="717.9" r="9.2"/><circle cx="315.4" cy="965.9" r="9.2"/><circle cx="948.6" cy="654.1" r="9.2"/><circle cx="1311.0" cy="430.6" r="9.2"/><circle cx="983.7" cy="383.5" r="9.2"/><circle cx="873.9" cy="758.7" r="9.2"/><circle cx="669.0" cy="918.2" r="9.2"/><circle cx="1300.8" cy="469.6" r="9.2"/><circle cx="1241.2" cy="443.0" r="9.2"/><circle cx="1056.8" cy="361.7" r="9.2"/><circle cx="939.1" cy="688.1" r="9.2"/><circle cx="681.6" cy="921.5" r="9.2"/><circle cx="1067.5" cy="283.6" r="9.2"/><circle cx="862.1" cy="455.7" r="9.2"/><circle cx="690.0" cy="561.8" r="9.2"/><circle cx="1158.6" cy="241.4" r="9.2"/><circle cx="1070.0" cy="268.8" r="9.2"/><circle cx="1114.0" cy="283.9" r="9.2"/><circle cx="913.4" cy="428.0" r="9.2"/><circle cx="584.8" cy="668.6" r="9.2"/><circle cx="651.9" cy="608.9" r="9.2"/><circle cx="1302.9" cy="390.6" r="9.2"/><circle cx="803.4" cy="454.4" r="9.2"/><circle cx="1328.3" cy="401.3" r="9.2"/><circle cx="1281.4" cy="171.8" r="9.2"/><circle cx="1288.9" cy="182.2" r="9.2"/><circle cx="1276.3" cy="151.6" r="9.2"/><circle cx="1322.2" cy="401.9" r="9.2"/><circle cx="892.3" cy="677.7" r="9.2"/><circle cx="824.6" cy="737.8" r="9.2"/><circle cx="961.7" cy="668.9" r="9.2"/><circle cx="578.2" cy="678.6" r="9.2"/><circle cx="1137.6" cy="597.9" r="9.2"/><circle cx="688.2" cy="588.6" r="9.2"/><circle cx="567.2" cy="673.1" r="9.2"/><circle cx="1319.1" cy="267.0" r="9.2"/><circle cx="687.9" cy="583.2" r="9.2"/><circle cx="703.2" cy="514.2" r="9.2"/><circle cx="1153.2" cy="224.2" r="9.2"/><circle cx="1299.1" cy="436.6" r="9.2"/><circle cx="1328.2" cy="470.7" r="9.2"/><circle cx="666.7" cy="604.7" r="9.2"/><circle cx="1287.4" cy="293.2" r="9.2"/><circle cx="1223.6" cy="219.7" r="9.2"/><circle cx="1016.4" cy="596.9" r="9.2"/><circle cx="411.7" cy="841.5" r="9.2"/><circle cx="835.1" cy="451.5" r="9.2"/><circle cx="631.7" cy="595.6" r="9.2"/><circle cx="1161.3" cy="618.1" r="9.2"/><circle cx="505.2" cy="715.9" r="9.2"/><circle cx="1328.1" cy="451.3" r="9.2"/><circle cx="1287.2" cy="164.9" r="9.2"/><circle cx="1164.6" cy="228.1" r="9.2"/><circle cx="912.7" cy="706.0" r="9.2"/><circle cx="269.2" cy="1127.2" r="9.2"/><circle cx="652.2" cy="570.1" r="9.2"/><circle cx="1074.4" cy="308.5" r="9.2"/><circle cx="776.5" cy="510.5" r="9.2"/><circle cx="1263.4" cy="400.2" r="9.2"/><circle cx="919.3" cy="425.5" r="9.2"/><circle cx="698.7" cy="897.6" r="9.2"/><circle cx="583.0" cy="653.3" r="9.2"/><circle cx="536.9" cy="1073.6" r="9.2"/><circle cx="1297.7" cy="150.0" r="9.2"/><circle cx="1309.6" cy="432.6" r="9.2"/><circle cx="624.8" cy="614.2" r="9.2"/><circle cx="1263.6" cy="360.5" r="9.2"/><circle cx="1266.2" cy="197.1" r="9.2"/><circle cx="293.8" cy="1035.5" r="9.2"/><circle cx="414.4" cy="835.7" r="9.2"/><circle cx="1228.1" cy="608.5" r="9.2"/><circle cx="744.8" cy="836.2" r="9.2"/><circle cx="1200.1" cy="578.3" r="9.2"/><circle cx="340.5" cy="927.6" r="9.2"/><circle cx="815.4" cy="756.7" r="9.2"/><circle cx="1282.4" cy="201.2" r="9.2"/><circle cx="827.1" cy="391.4" r="9.2"/><circle cx="761.1" cy="492.7" r="9.2"/><circle cx="656.6" cy="930.8" r="9.2"/><circle cx="276.9" cy="1089.0" r="9.2"/><circle cx="468.2" cy="732.6" r="9.2"/><circle cx="1326.8" cy="422.2" r="9.2"/><circle cx="556.6" cy="1027.8" r="9.2"/><circle cx="1221.6" cy="529.3" r="9.2"/><circle cx="1162.4" cy="574.1" r="9.2"/><circle cx="1283.0" cy="591.3" r="9.2"/><circle cx="1309.4" cy="294.7" r="9.2"/><circle cx="828.2" cy="497.0" r="9.2"/><circle cx="1308.7" cy="198.0" r="9.2"/><circle cx="633.0" cy="606.0" r="9.2"/><circle cx="1242.8" cy="454.5" r="9.2"/><circle cx="783.1" cy="845.3" r="9.2"/><circle cx="891.5" cy="755.0" r="9.2"/><circle cx="1320.5" cy="316.7" r="9.2"/><circle cx="743.2" cy="534.2" r="9.2"/><circle cx="781.4" cy="820.2" r="9.2"/><circle cx="1311.3" cy="450.4" r="9.2"/><circle cx="1329.7" cy="472.5" r="9.2"/><circle cx="378.2" cy="868.5" r="9.2"/><circle cx="1222.2" cy="532.5" r="9.2"/><circle cx="1293.6" cy="155.1" r="9.2"/><circle cx="637.9" cy="607.9" r="9.2"/><circle cx="343.3" cy="923.0" r="9.2"/><circle cx="694.4" cy="911.6" r="9.2"/><circle cx="577.4" cy="698.5" r="9.2"/><circle cx="552.8" cy="674.3" r="9.2"/><circle cx="702.7" cy="558.9" r="9.2"/><circle cx="948.3" cy="407.1" r="9.2"/><circle cx="957.0" cy="382.2" r="9.2"/><circle cx="1311.4" cy="354.3" r="9.2"/><circle cx="606.9" cy="984.2" r="9.2"/><circle cx="909.6" cy="414.5" r="9.2"/><circle cx="593.4" cy="624.8" r="9.2"/><circle cx="1143.7" cy="280.1" r="9.2"/><circle cx="958.2" cy="661.5" r="9.2"/><circle cx="383.6" cy="862.1" r="9.2"/><circle cx="715.7" cy="899.7" r="9.2"/><circle cx="1224.3" cy="564.7" r="9.2"/><circle cx="1192.2" cy="576.6" r="9.2"/><circle cx="779.8" cy="819.4" r="9.2"/><circle cx="398.2" cy="1146.8" r="9.2"/><circle cx="957.4" cy="639.5" r="9.2"/><circle cx="1311.9" cy="307.5" r="9.2"/><circle cx="1257.4" cy="568.3" r="9.2"/><circle cx="1096.5" cy="299.4" r="9.2"/><circle cx="1114.4" cy="598.6" r="9.2"/><circle cx="1079.4" cy="319.2" r="9.2"/><circle cx="684.8" cy="546.5" r="9.2"/><circle cx="837.6" cy="456.7" r="9.2"/><circle cx="1142.7" cy="580.1" r="9.2"/><circle cx="710.9" cy="549.1" r="9.2"/><circle cx="334.2" cy="909.2" r="9.2"/><circle cx="653.5" cy="617.3" r="9.2"/><circle cx="1255.9" cy="562.1" r="9.2"/><circle cx="631.1" cy="594.8" r="9.2"/><circle cx="1072.5" cy="322.3" r="9.2"/><circle cx="1321.6" cy="224.5" r="9.2"/><circle cx="955.9" cy="378.5" r="9.2"/><circle cx="956.8" cy="691.2" r="9.2"/><circle cx="1323.2" cy="351.3" r="9.2"/><circle cx="1205.8" cy="608.1" r="9.2"/><circle cx="997.0" cy="363.2" r="9.2"/><circle cx="1105.3" cy="288.5" r="9.2"/><circle cx="1039.9" cy="588.3" r="9.2"/><circle cx="1089.3" cy="305.5" r="9.2"/><circle cx="990.4" cy="591.7" r="9.2"/><circle cx="616.2" cy="610.1" r="9.2"/><circle cx="1320.9" cy="285.5" r="9.2"/><circle cx="998.2" cy="373.4" r="9.2"/><circle cx="961.7" cy="673.3" r="9.2"/><circle cx="668.9" cy="939.0" r="9.2"/><circle cx="1146.5" cy="268.4" r="9.2"/><circle cx="1033.0" cy="604.5" r="9.2"/><circle cx="983.8" cy="596.6" r="9.2"/><circle cx="750.4" cy="507.5" r="9.2"/><circle cx="699.9" cy="541.1" r="9.2"/><circle cx="724.5" cy="533.1" r="9.2"/><circle cx="1061.4" cy="284.8" r="9.2"/><circle cx="537.3" cy="696.7" r="9.2"/><circle cx="647.2" cy="959.3" r="9.2"/><circle cx="828.4" cy="496.6" r="9.2"/><circle cx="977.7" cy="609.3" r="9.2"/><circle cx="998.0" cy="604.3" r="9.2"/><circle cx="841.2" cy="767.4" r="9.2"/><circle cx="1183.7" cy="578.5" r="9.2"/><circle cx="600.9" cy="657.8" r="9.2"/><circle cx="435.1" cy="1114.6" r="9.2"/><circle cx="1323.8" cy="402.3" r="9.2"/><circle cx="1284.3" cy="168.6" r="9.2"/><circle cx="1067.5" cy="303.8" r="9.2"/><circle cx="262.1" cy="1207.0" r="9.2"/><circle cx="1190.4" cy="605.4" r="9.2"/><circle cx="1029.5" cy="326.2" r="9.2"/><circle cx="1301.0" cy="203.4" r="9.2"/><circle cx="884.7" cy="701.4" r="9.2"/><circle cx="1098.6" cy="299.7" r="9.2"/><circle cx="1252.1" cy="423.3" r="9.2"/><circle cx="277.3" cy="1224.6" r="9.2"/><circle cx="1002.1" cy="387.8" r="9.2"/><circle cx="1281.0" cy="131.0" r="9.2"/><circle cx="322.5" cy="1201.8" r="9.2"/><circle cx="1315.3" cy="258.7" r="9.2"/><circle cx="1258.1" cy="518.6" r="9.2"/><circle cx="822.9" cy="750.6" r="9.2"/><circle cx="462.7" cy="766.5" r="9.2"/><circle cx="493.9" cy="723.6" r="9.2"/><circle cx="948.7" cy="680.3" r="9.2"/><circle cx="887.1" cy="666.9" r="9.2"/><circle cx="1273.2" cy="412.9" r="9.2"/><circle cx="1232.8" cy="570.0" r="9.2"/><circle cx="1097.3" cy="303.5" r="9.2"/><circle cx="809.2" cy="480.5" r="9.2"/><circle cx="1291.7" cy="291.8" r="9.2"/><circle cx="961.7" cy="395.8" r="9.2"/><circle cx="1308.4" cy="269.8" r="9.2"/><circle cx="940.6" cy="409.7" r="9.2"/><circle cx="1230.7" cy="625.5" r="9.2"/><circle cx="1194.7" cy="621.4" r="9.2"/><circle cx="587.7" cy="618.3" r="9.2"/><circle cx="1308.6" cy="139.4" r="9.2"/><circle cx="273.2" cy="1120.7" r="9.2"/><circle cx="1112.1" cy="569.7" r="9.2"/><circle cx="815.9" cy="800.2" r="9.2"/><circle cx="998.3" cy="590.1" r="9.2"/><circle cx="1294.0" cy="512.4" r="9.2"/><circle cx="957.7" cy="419.8" r="9.2"/><circle cx="1255.9" cy="507.9" r="9.2"/><circle cx="1261.3" cy="466.6" r="9.2"/><circle cx="615.7" cy="641.2" r="9.2"/><circle cx="1036.5" cy="370.3" r="9.2"/><circle cx="1070.2" cy="641.5" r="9.2"/><circle cx="1067.3" cy="302.4" r="9.2"/><circle cx="700.2" cy="915.8" r="9.2"/><circle cx="860.3" cy="765.7" r="9.2"/><circle cx="1238.8" cy="556.9" r="9.2"/><circle cx="411.8" cy="824.2" r="9.2"/><circle cx="1260.5" cy="517.7" r="9.2"/><circle cx="1164.4" cy="244.7" r="9.2"/><circle cx="826.9" cy="795.1" r="9.2"/><circle cx="501.0" cy="729.7" r="9.2"/><circle cx="831.6" cy="783.4" r="9.2"/><circle cx="1259.4" cy="590.5" r="9.2"/><circle cx="464.1" cy="762.0" r="9.2"/><circle cx="984.5" cy="405.9" r="9.2"/><circle cx="1158.9" cy="223.9" r="9.2"/><circle cx="1057.2" cy="572.3" r="9.2"/><circle cx="861.6" cy="789.9" r="9.2"/><circle cx="1230.3" cy="479.5" r="9.2"/><circle cx="1326.6" cy="467.5" r="9.2"/><circle cx="322.6" cy="963.2" r="9.2"/><circle cx="511.0" cy="1089.5" r="9.2"/><circle cx="1001.2" cy="401.8" r="9.2"/><circle cx="920.2" cy="420.4" r="9.2"/><circle cx="1024.5" cy="585.3" r="9.2"/><circle cx="1243.0" cy="460.3" r="9.2"/><circle cx="1281.1" cy="591.0" r="9.2"/><circle cx="1060.5" cy="322.7" r="9.2"/><circle cx="1071.0" cy="321.7" r="9.2"/><circle cx="981.1" cy="660.2" r="9.2"/><circle cx="825.7" cy="492.1" r="9.2"/><circle cx="672.0" cy="920.6" r="9.2"/><circle cx="729.1" cy="872.2" r="9.2"/><circle cx="478.2" cy="748.2" r="9.2"/><circle cx="755.1" cy="501.7" r="9.2"/><circle cx="1177.1" cy="565.9" r="9.2"/><circle cx="962.1" cy="617.0" r="9.2"/><circle cx="1059.3" cy="347.2" r="9.2"/><circle cx="598.0" cy="995.2" r="9.2"/><circle cx="831.2" cy="811.0" r="9.2"/><circle cx="1118.5" cy="294.7" r="9.2"/><circle cx="1037.4" cy="601.7" r="9.2"/><circle cx="651.8" cy="935.4" r="9.2"/><circle cx="565.6" cy="707.8" r="9.2"/><circle cx="1271.7" cy="606.4" r="9.2"/><circle cx="811.2" cy="788.6" r="9.2"/><circle cx="1212.5" cy="572.8" r="9.2"/><circle cx="1213.4" cy="579.8" r="9.2"/><circle cx="1091.0" cy="624.0" r="9.2"/><circle cx="1186.0" cy="207.7" r="9.2"/><circle cx="911.7" cy="434.3" r="9.2"/><circle cx="1162.8" cy="195.5" r="9.2"/><circle cx="438.4" cy="782.8" r="9.2"/><circle cx="363.4" cy="870.6" r="9.2"/><circle cx="1065.1" cy="337.4" r="9.2"/><circle cx="1313.3" cy="455.1" r="9.2"/><circle cx="1288.7" cy="519.4" r="9.2"/><circle cx="975.1" cy="648.0" r="9.2"/><circle cx="510.4" cy="707.8" r="9.2"/><circle cx="640.0" cy="603.0" r="9.2"/><circle cx="1132.6" cy="579.3" r="9.2"/><circle cx="1200.2" cy="570.6" r="9.2"/><circle cx="361.6" cy="873.5" r="9.2"/><circle cx="1008.3" cy="388.5" r="9.2"/><circle cx="735.5" cy="526.7" r="9.2"/><circle cx="861.6" cy="458.8" r="9.2"/><circle cx="442.0" cy="782.9" r="9.2"/><circle cx="887.0" cy="701.3" r="9.2"/><circle cx="605.2" cy="977.8" r="9.2"/><circle cx="345.7" cy="896.4" r="9.2"/><circle cx="1258.6" cy="193.6" r="9.2"/><circle cx="713.8" cy="522.8" r="9.2"/><circle cx="1280.9" cy="207.9" r="9.2"/><circle cx="968.5" cy="405.4" r="9.2"/><circle cx="412.3" cy="837.2" r="9.2"/><circle cx="319.7" cy="962.3" r="9.2"/><circle cx="1082.9" cy="571.6" r="9.2"/><circle cx="1325.2" cy="303.4" r="9.2"/><circle cx="822.0" cy="495.9" r="9.2"/><circle cx="416.3" cy="1121.0" r="9.2"/><circle cx="1225.5" cy="219.4" r="9.2"/><circle cx="1330.4" cy="133.8" r="9.2"/><circle cx="442.0" cy="813.2" r="9.2"/><circle cx="1000.2" cy="389.4" r="9.2"/><circle cx="1169.8" cy="225.6" r="9.2"/><circle cx="928.9" cy="692.4" r="9.2"/><circle cx="726.8" cy="851.6" r="9.2"/><circle cx="1293.0" cy="223.8" r="9.2"/><circle cx="812.2" cy="794.7" r="9.2"/><circle cx="741.9" cy="877.7" r="9.2"/><circle cx="916.5" cy="637.4" r="9.2"/><circle cx="820.5" cy="776.0" r="9.2"/><circle cx="566.1" cy="673.3" r="9.2"/><circle cx="860.5" cy="754.6" r="9.2"/><circle cx="1206.1" cy="581.9" r="9.2"/><circle cx="882.1" cy="444.0" r="9.2"/><circle cx="1241.2" cy="435.5" r="9.2"/><circle cx="1234.2" cy="497.2" r="9.2"/><circle cx="1053.7" cy="355.0" r="9.2"/><circle cx="690.4" cy="927.2" r="9.2"/><circle cx="1147.6" cy="570.4" r="9.2"/><circle cx="1077.5" cy="329.2" r="9.2"/><circle cx="856.3" cy="445.3" r="9.2"/><circle cx="1245.4" cy="477.5" r="9.2"/><circle cx="832.9" cy="814.7" r="9.2"/><circle cx="1285.6" cy="487.2" r="9.2"/><circle cx="665.0" cy="609.5" r="9.2"/><circle cx="451.8" cy="1100.1" r="9.2"/><circle cx="1144.8" cy="591.7" r="9.2"/><circle cx="1332.1" cy="269.6" r="9.2"/><circle cx="1234.6" cy="607.7" r="9.2"/><circle cx="1292.5" cy="216.6" r="9.2"/><circle cx="1308.1" cy="273.9" r="9.2"/><circle cx="719.4" cy="886.9" r="9.2"/><circle cx="1115.0" cy="566.6" r="9.2"/><circle cx="1293.6" cy="342.3" r="9.2"/><circle cx="1067.6" cy="596.5" r="9.2"/><circle cx="880.5" cy="704.5" r="9.2"/><circle cx="1300.4" cy="288.4" r="9.2"/><circle cx="1219.0" cy="223.6" r="9.2"/><circle cx="1066.2" cy="301.7" r="9.2"/><circle cx="552.3" cy="1034.5" r="9.2"/><circle cx="869.5" cy="725.1" r="9.2"/><circle cx="592.4" cy="685.8" r="9.2"/><circle cx="888.1" cy="671.0" r="9.2"/><circle cx="1034.0" cy="594.6" r="9.2"/><circle cx="956.8" cy="650.9" r="9.2"/><circle cx="1167.3" cy="227.3" r="9.2"/><circle cx="1293.4" cy="523.0" r="9.2"/><circle cx="826.3" cy="485.0" r="9.2"/><circle cx="1286.6" cy="241.0" r="9.2"/><circle cx="761.2" cy="841.0" r="9.2"/><circle cx="306.1" cy="1207.1" r="9.2"/><circle cx="844.6" cy="828.8" r="9.2"/><circle cx="1019.6" cy="579.2" r="9.2"/><circle cx="1257.2" cy="399.3" r="9.2"/><circle cx="569.1" cy="617.3" r="9.2"/><circle cx="1150.0" cy="271.8" r="9.2"/><circle cx="1249.1" cy="210.3" r="9.2"/><circle cx="730.2" cy="871.8" r="9.2"/><circle cx="1321.7" cy="301.0" r="9.2"/><circle cx="700.0" cy="531.3" r="9.2"/><circle cx="524.6" cy="721.0" r="9.2"/><circle cx="1292.1" cy="548.7" r="9.2"/><circle cx="308.2" cy="1210.5" r="9.2"/><circle cx="411.4" cy="840.8" r="9.2"/><circle cx="474.9" cy="754.1" r="9.2"/><circle cx="703.0" cy="547.4" r="9.2"/><circle cx="1311.2" cy="166.2" r="9.2"/><circle cx="1064.1" cy="277.4" r="9.2"/><circle cx="1076.1" cy="272.2" r="9.2"/><circle cx="437.0" cy="796.3" r="9.2"/><circle cx="996.9" cy="406.7" r="9.2"/><circle cx="742.5" cy="514.4" r="9.2"/><circle cx="1030.1" cy="575.9" r="9.2"/><circle cx="1291.8" cy="498.1" r="9.2"/><circle cx="905.0" cy="421.9" r="9.2"/><circle cx="1070.4" cy="286.9" r="9.2"/><circle cx="997.6" cy="652.4" r="9.2"/><circle cx="290.3" cy="922.1" r="9.2"/><circle cx="303.9" cy="937.1" r="9.2"/><circle cx="296.0" cy="977.3" r="9.2"/><circle cx="285.7" cy="994.1" r="9.2"/><circle cx="285.7" cy="1022.7" r="9.2"/><circle cx="281.6" cy="1056.6" r="9.2"/><circle cx="314.2" cy="888.2" r="9.2"/><circle cx="303.4" cy="882.7" r="9.2"/><circle cx="327.8" cy="907.2" r="9.2"/><circle cx="325.1" cy="926.2" r="9.2"/><circle cx="314.2" cy="1214.2" r="9.2"/><circle cx="337.3" cy="1200.7" r="9.2"/><circle cx="352.3" cy="1183.0" r="9.2"/><circle cx="401.2" cy="1154.5" r="9.2"/><circle cx="387.6" cy="1157.2" r="9.2"/><circle cx="418.9" cy="1134.1" r="9.2"/><circle cx="414.8" cy="1121.8" r="9.2"/><circle cx="436.5" cy="1123.2" r="9.2"/><circle cx="447.4" cy="1125.9" r="9.2"/><circle cx="439.2" cy="1113.7" r="9.2"/><circle cx="462.3" cy="1104.2" r="9.2"/><circle cx="466.4" cy="1115.1" r="9.2"/><circle cx="468.6" cy="1125.9" r="9.2"/><circle cx="477.8" cy="1150.4" r="9.2"/><circle cx="490.9" cy="1101.5" r="9.2"/><circle cx="486.8" cy="1097.4" r="9.2"/><circle cx="518.0" cy="1096.0" r="9.2"/><circle cx="533.5" cy="1101.5" r="9.2"/><circle cx="526.7" cy="1119.1" r="9.2"/><circle cx="508.5" cy="1128.6" r="9.2"/><circle cx="515.3" cy="1127.3" r="9.2"/><circle cx="533.5" cy="1136.2" r="9.2"/><circle cx="520.2" cy="1172.9" r="9.2"/><circle cx="542.5" cy="1086.5" r="9.2"/><circle cx="549.3" cy="1081.1" r="9.2"/><circle cx="564.2" cy="1070.2" r="9.2"/><circle cx="575.1" cy="1085.2" r="9.2"/><circle cx="584.6" cy="1081.1" r="9.2"/><circle cx="545.2" cy="1056.6" r="9.2"/><circle cx="556.1" cy="1044.4" r="9.2"/><circle cx="572.4" cy="1033.5" r="9.2"/><circle cx="586.0" cy="1032.2" r="9.2"/><circle cx="591.4" cy="1060.7" r="9.2"/><circle cx="610.4" cy="1081.1" r="9.2"/><circle cx="618.0" cy="1035.7" r="9.2"/><circle cx="594.1" cy="1014.5" r="9.2"/><circle cx="610.4" cy="999.6" r="9.2"/><circle cx="626.7" cy="990.1" r="9.2"/><circle cx="591.4" cy="1148.5" r="9.2"/><circle cx="597.4" cy="1178.4" r="9.2"/><circle cx="708.8" cy="880.0" r="9.2"/><circle cx="744.1" cy="885.4" r="9.2"/><circle cx="780.8" cy="884.1" r="9.2"/><circle cx="795.8" cy="881.4" r="9.2"/><circle cx="836.5" cy="880.0" r="9.2"/><circle cx="862.3" cy="880.0" r="9.2"/><circle cx="881.4" cy="884.1" r="9.2"/><circle cx="901.7" cy="884.1" r="9.2"/><circle cx="918.0" cy="885.4" r="9.2"/><circle cx="958.8" cy="880.0" r="9.2"/><circle cx="981.9" cy="890.9" r="9.2"/><circle cx="1006.4" cy="881.4" r="9.2"/><circle cx="1021.3" cy="893.6" r="9.2"/><circle cx="831.1" cy="894.9" r="9.2"/><circle cx="909.9" cy="905.0" r="9.2"/><circle cx="926.7" cy="903.9" r="9.2"/><circle cx="847.4" cy="905.8" r="9.2"/><circle cx="843.3" cy="914.8" r="9.2"/><circle cx="843.3" cy="914.8" r="9.2"/><circle cx="707.4" cy="907.2" r="9.2"/><circle cx="729.2" cy="911.2" r="9.2"/><circle cx="803.9" cy="915.3" r="9.2"/><circle cx="797.1" cy="920.8" r="9.2"/><circle cx="822.4" cy="924.0" r="9.2"/><circle cx="953.4" cy="914.0" r="9.2"/><circle cx="966.4" cy="922.7" r="9.2"/><circle cx="986.0" cy="923.5" r="9.2"/><circle cx="995.5" cy="928.4" r="9.2"/><circle cx="995.5" cy="928.4" r="9.2"/><circle cx="1000.9" cy="920.8" r="9.2"/><circle cx="1025.4" cy="920.8" r="9.2"/><circle cx="1021.3" cy="907.2" r="9.2"/><circle cx="831.1" cy="941.1" r="9.2"/><circle cx="760.4" cy="920.8" r="9.2"/><circle cx="763.2" cy="923.5" r="9.2"/><circle cx="757.7" cy="918.0" r="9.2"/><circle cx="780.8" cy="934.3" r="9.2"/><circle cx="782.2" cy="935.7" r="9.2"/><circle cx="776.7" cy="945.2" r="9.2"/><circle cx="778.9" cy="959.3" r="9.2"/><circle cx="731.9" cy="934.3" r="9.2"/><circle cx="732.7" cy="935.2" r="9.2"/><circle cx="737.3" cy="958.8" r="9.2"/><circle cx="707.4" cy="923.5" r="9.2"/><circle cx="703.4" cy="935.7" r="9.2"/><circle cx="707.4" cy="945.2" r="9.2"/><circle cx="708.3" cy="946.0" r="9.2"/><circle cx="711.5" cy="961.5" r="9.2"/><circle cx="717.0" cy="969.7" r="9.2"/><circle cx="733.3" cy="969.7" r="9.2"/><circle cx="734.1" cy="970.5" r="9.2"/><circle cx="738.7" cy="983.3" r="9.2"/><circle cx="727.8" cy="984.6" r="9.2"/><circle cx="699.3" cy="990.1" r="9.2"/><circle cx="692.5" cy="987.3" r="9.2"/><circle cx="683.0" cy="976.5" r="9.2"/><circle cx="662.6" cy="998.2" r="9.2"/><circle cx="640.9" cy="998.2" r="9.2"/><circle cx="665.3" cy="980.5" r="9.2"/><circle cx="666.1" cy="981.4" r="9.2"/><circle cx="643.6" cy="983.3" r="9.2"/><circle cx="644.4" cy="984.1" r="9.2"/><circle cx="681.6" cy="956.1" r="9.2"/><circle cx="673.5" cy="957.4" r="9.2"/><circle cx="689.8" cy="956.6" r="9.2"/><circle cx="746.8" cy="915.3" r="9.2"/><circle cx="771.3" cy="923.5" r="9.2"/><circle cx="719.7" cy="920.8" r="9.2"/><circle cx="810.7" cy="956.9" r="9.2"/><circle cx="825.7" cy="967.0" r="9.2"/><circle cx="824.6" cy="979.2" r="9.2"/><circle cx="926.2" cy="954.7" r="9.2"/><circle cx="916.7" cy="979.2" r="9.2"/><circle cx="917.5" cy="980.0" r="9.2"/><circle cx="922.9" cy="986.5" r="9.2"/><circle cx="947.9" cy="970.2" r="9.2"/><circle cx="963.7" cy="970.2" r="9.2"/><circle cx="1006.4" cy="972.4" r="9.2"/><circle cx="1029.5" cy="988.7" r="9.2"/><circle cx="802.6" cy="994.1" r="9.2"/><circle cx="817.5" cy="994.1" r="9.2"/><circle cx="829.7" cy="1003.6" r="9.2"/><circle cx="786.2" cy="1000.9" r="9.2"/><circle cx="782.2" cy="1010.4" r="9.2"/><circle cx="757.7" cy="1006.9" r="9.2"/><circle cx="722.4" cy="1006.4" r="9.2"/><circle cx="644.1" cy="1019.9" r="9.2"/><circle cx="765.9" cy="1026.7" r="9.2"/><circle cx="796.3" cy="1024.6" r="9.2"/><circle cx="820.8" cy="1022.7" r="9.2"/><circle cx="832.4" cy="1020.8" r="9.2"/><circle cx="863.2" cy="1027.6" r="9.2"/><circle cx="978.4" cy="1005.8" r="9.2"/><circle cx="1029.5" cy="1002.3" r="9.2"/><circle cx="749.6" cy="1034.9" r="9.2"/><circle cx="740.1" cy="1044.4" r="9.2"/><circle cx="740.9" cy="1045.2" r="9.2"/><circle cx="753.6" cy="1056.6" r="9.2"/><circle cx="736.0" cy="1059.3" r="9.2"/><circle cx="741.4" cy="1066.1" r="9.2"/><circle cx="742.2" cy="1067.0" r="9.2"/><circle cx="710.2" cy="1044.4" r="9.2"/><circle cx="684.3" cy="1053.9" r="9.2"/><circle cx="676.2" cy="1064.8" r="9.2"/><circle cx="644.1" cy="1074.3" r="9.2"/><circle cx="651.2" cy="1089.2" r="9.2"/><circle cx="990.1" cy="1029.5" r="9.2"/><circle cx="1004.5" cy="1038.2" r="9.2"/><circle cx="919.4" cy="1046.3" r="9.2"/><circle cx="932.2" cy="1062.6" r="9.2"/><circle cx="933.0" cy="1063.4" r="9.2"/><circle cx="908.5" cy="1064.8" r="9.2"/><circle cx="1029.5" cy="1044.4" r="9.2"/><circle cx="1030.0" cy="1045.2" r="9.2"/><circle cx="805.3" cy="1060.7" r="9.2"/><circle cx="824.8" cy="1059.3" r="9.2"/><circle cx="794.4" cy="1068.9" r="9.2"/><circle cx="837.9" cy="1073.5" r="9.2"/><circle cx="883.3" cy="1077.0" r="9.2"/><circle cx="970.5" cy="1074.3" r="9.2"/><circle cx="1000.1" cy="1070.8" r="9.2"/><circle cx="1000.9" cy="1071.6" r="9.2"/><circle cx="706.9" cy="1094.1" r="9.2"/><circle cx="732.4" cy="1087.1" r="9.2"/><circle cx="756.9" cy="1096.8" r="9.2"/><circle cx="790.3" cy="1093.9" r="9.2"/><circle cx="818.0" cy="1097.4" r="9.2"/><circle cx="845.5" cy="1093.3" r="9.2"/><circle cx="859.6" cy="1104.7" r="9.2"/><circle cx="880.0" cy="1098.8" r="9.2"/><circle cx="893.0" cy="1101.5" r="9.2"/><circle cx="869.1" cy="1113.7" r="9.2"/><circle cx="869.9" cy="1114.5" r="9.2"/><circle cx="869.9" cy="1119.1" r="9.2"/><circle cx="918.6" cy="1107.7" r="9.2"/><circle cx="952.3" cy="1111.0" r="9.2"/><circle cx="975.1" cy="1115.3" r="9.2"/><circle cx="1022.7" cy="1113.2" r="9.2"/><circle cx="1029.5" cy="1094.7" r="9.2"/><circle cx="660.4" cy="1125.1" r="9.2"/><circle cx="723.2" cy="1119.1" r="9.2"/><circle cx="736.5" cy="1121.0" r="9.2"/><circle cx="785.2" cy="1125.1" r="9.2"/><circle cx="899.0" cy="1127.8" r="9.2"/><circle cx="660.4" cy="1149.0" r="9.2"/><circle cx="716.4" cy="1159.3" r="9.2"/><circle cx="717.0" cy="1159.9" r="9.2"/><circle cx="1043.6" cy="885.4" r="9.2"/><circle cx="1057.2" cy="895.8" r="9.2"/><circle cx="1097.9" cy="892.2" r="9.2"/><circle cx="1100.7" cy="881.4" r="9.2"/><circle cx="1126.5" cy="885.4" r="9.2"/><circle cx="1140.1" cy="896.3" r="9.2"/><circle cx="1140.1" cy="910.4" r="9.2"/><circle cx="1159.6" cy="905.3" r="9.2"/><circle cx="1178.1" cy="903.1" r="9.2"/><circle cx="1256.1" cy="881.4" r="9.2"/><circle cx="1347.4" cy="882.2" r="9.2"/><circle cx="1347.4" cy="903.9" r="9.2"/><circle cx="1030.0" cy="909.9" r="9.2"/><circle cx="1047.7" cy="931.6" r="9.2"/><circle cx="1047.7" cy="935.7" r="9.2"/><circle cx="1048.5" cy="934.3" r="9.2"/><circle cx="1043.6" cy="946.6" r="9.2"/><circle cx="1040.9" cy="961.0" r="9.2"/><circle cx="1057.2" cy="962.9" r="9.2"/><circle cx="1058.0" cy="963.7" r="9.2"/><circle cx="1061.2" cy="975.1" r="9.2"/><circle cx="1038.2" cy="987.3" r="9.2"/><circle cx="1039.0" cy="988.2" r="9.2"/><circle cx="1054.5" cy="998.2" r="9.2"/><circle cx="1066.7" cy="988.7" r="9.2"/><circle cx="1079.5" cy="1003.6" r="9.2"/><circle cx="1074.3" cy="928.1" r="9.2"/><circle cx="1085.7" cy="937.1" r="9.2"/><circle cx="1086.5" cy="937.9" r="9.2"/><circle cx="1088.4" cy="924.8" r="9.2"/><circle cx="1099.3" cy="920.8" r="9.2"/><circle cx="1103.4" cy="928.9" r="9.2"/><circle cx="1104.2" cy="929.7" r="9.2"/><circle cx="1111.5" cy="934.3" r="9.2"/><circle cx="1112.3" cy="935.2" r="9.2"/><circle cx="1117.0" cy="937.1" r="9.2"/><circle cx="1117.8" cy="937.9" r="9.2"/><circle cx="1132.7" cy="938.4" r="9.2"/><circle cx="1135.4" cy="950.7" r="9.2"/><circle cx="1087.1" cy="967.0" r="9.2"/><circle cx="1087.9" cy="967.8" r="9.2"/><circle cx="1107.4" cy="960.2" r="9.2"/><circle cx="1118.3" cy="969.7" r="9.2"/><circle cx="1097.9" cy="978.4" r="9.2"/><circle cx="1112.1" cy="982.7" r="9.2"/><circle cx="1142.0" cy="979.7" r="9.2"/><circle cx="1142.8" cy="980.5" r="9.2"/><circle cx="1153.6" cy="998.2" r="9.2"/><circle cx="1136.0" cy="1005.0" r="9.2"/><circle cx="1131.9" cy="1009.1" r="9.2"/><circle cx="1132.7" cy="1009.9" r="9.2"/><circle cx="1125.1" cy="1018.6" r="9.2"/><circle cx="1133.3" cy="1026.7" r="9.2"/><circle cx="1134.1" cy="1027.6" r="9.2"/><circle cx="1134.1" cy="1035.7" r="9.2"/><circle cx="1103.4" cy="1017.2" r="9.2"/><circle cx="1104.2" cy="1018.0" r="9.2"/><circle cx="1100.7" cy="1021.3" r="9.2"/><circle cx="1107.4" cy="1015.9" r="9.2"/><circle cx="1161.2" cy="1043.0" r="9.2"/><circle cx="1059.9" cy="1024.0" r="9.2"/><circle cx="1068.0" cy="1028.1" r="9.2"/><circle cx="1068.9" cy="1028.9" r="9.2"/><circle cx="1072.1" cy="1026.7" r="9.2"/><circle cx="1057.2" cy="1039.0" r="9.2"/><circle cx="1058.0" cy="1039.8" r="9.2"/><circle cx="1065.3" cy="1045.8" r="9.2"/><circle cx="1066.1" cy="1046.6" r="9.2"/><circle cx="1038.2" cy="1040.3" r="9.2"/><circle cx="1077.6" cy="1043.0" r="9.2"/><circle cx="1081.6" cy="1053.9" r="9.2"/><circle cx="1093.9" cy="1056.1" r="9.2"/><circle cx="1094.7" cy="1056.9" r="9.2"/><circle cx="1050.4" cy="1064.8" r="9.2"/><circle cx="1062.6" cy="1053.9" r="9.2"/><circle cx="1072.9" cy="1070.2" r="9.2"/><circle cx="1035.4" cy="1077.0" r="9.2"/><circle cx="1055.3" cy="1081.6" r="9.2"/><circle cx="1076.2" cy="1088.7" r="9.2"/><circle cx="1073.5" cy="1089.2" r="9.2"/><circle cx="1042.2" cy="1100.1" r="9.2"/><circle cx="1043.0" cy="1100.9" r="9.2"/><circle cx="1050.4" cy="1101.5" r="9.2"/><circle cx="1051.2" cy="1102.3" r="9.2"/><circle cx="1081.6" cy="1106.1" r="9.2"/><circle cx="1082.4" cy="1106.9" r="9.2"/><circle cx="1069.4" cy="1113.2" r="9.2"/><circle cx="1056.6" cy="1120.5" r="9.2"/><circle cx="1083.3" cy="1126.5" r="9.2"/><circle cx="1030.0" cy="1113.7" r="9.2"/><circle cx="1112.3" cy="1077.0" r="9.2"/><circle cx="1118.3" cy="1090.6" r="9.2"/><circle cx="1119.1" cy="1091.4" r="9.2"/><circle cx="1117.0" cy="1097.4" r="9.2"/><circle cx="1117.8" cy="1098.2" r="9.2"/><circle cx="1114.2" cy="1106.1" r="9.2"/><circle cx="1197.1" cy="967.8" r="9.2"/><circle cx="1224.0" cy="947.1" r="9.2"/><circle cx="1255.3" cy="952.0" r="9.2"/><circle cx="1284.1" cy="971.0" r="9.2"/><circle cx="1267.2" cy="1000.9" r="9.2"/><circle cx="1234.3" cy="1011.2" r="9.2"/><circle cx="1215.3" cy="1028.1" r="9.2"/><circle cx="1261.0" cy="1035.4" r="9.2"/><circle cx="1228.4" cy="1057.2" r="9.2"/><circle cx="1229.2" cy="1058.0" r="9.2"/><circle cx="1347.4" cy="1026.7" r="9.2"/><circle cx="1221.3" cy="1109.1" r="9.2"/><circle cx="1075.4" cy="1166.1" r="9.2"/><circle cx="1076.2" cy="1167.0" r="9.2"/><circle cx="395.2" cy="517.2" r="9.2"/><circle cx="330.3" cy="622.9" r="9.2"/><circle cx="433.0" cy="630.8" r="9.2"/><circle cx="444.4" cy="653.9" r="9.2"/><circle cx="424.8" cy="667.5" r="9.2"/><circle cx="410.7" cy="671.0" r="9.2"/><circle cx="378.4" cy="672.4" r="9.2"/><circle cx="434.3" cy="683.8" r="9.2"/><circle cx="379.2" cy="703.9" r="9.2"/><circle cx="465.1" cy="700.1" r="9.2"/><circle cx="445.2" cy="716.4" r="9.2"/><circle cx="427.0" cy="725.1" r="9.2"/><circle cx="391.7" cy="725.9" r="9.2"/><circle cx="399.8" cy="725.9" r="9.2"/><circle cx="350.9" cy="757.2" r="9.2"/><circle cx="351.7" cy="758.0" r="9.2"/><circle cx="360.4" cy="762.6" r="9.2"/><circle cx="375.4" cy="774.0" r="9.2"/><circle cx="385.4" cy="788.4" r="9.2"/><circle cx="406.1" cy="792.5" r="9.2"/><circle cx="320.2" cy="784.3" r="9.2"/><circle cx="326.5" cy="800.7" r="9.2"/><circle cx="336.0" cy="804.7" r="9.2"/><circle cx="336.8" cy="805.5" r="9.2"/><circle cx="340.1" cy="800.7" r="9.2"/><circle cx="357.7" cy="804.7" r="9.2"/><circle cx="363.2" cy="803.4" r="9.2"/><circle cx="364.0" cy="804.2" r="9.2"/><circle cx="390.3" cy="817.0" r="9.2"/><circle cx="409.3" cy="810.2" r="9.2"/><circle cx="379.5" cy="827.8" r="9.2"/><circle cx="371.3" cy="833.3" r="9.2"/><circle cx="360.4" cy="838.7" r="9.2"/><circle cx="336.0" cy="842.0" r="9.2"/><circle cx="311.5" cy="842.8" r="9.2"/><circle cx="299.3" cy="842.8" r="9.2"/><circle cx="306.9" cy="861.8" r="9.2"/><circle cx="344.1" cy="859.1" r="9.2"/><circle cx="341.4" cy="880.0" r="9.2"/><circle cx="578.4" cy="518.0" r="9.2"/><circle cx="579.2" cy="518.9" r="9.2"/><circle cx="584.6" cy="516.7" r="9.2"/><circle cx="615.9" cy="506.4" r="9.2"/><circle cx="622.7" cy="492.2" r="9.2"/><circle cx="629.5" cy="488.2" r="9.2"/><circle cx="629.5" cy="512.6" r="9.2"/><circle cx="506.6" cy="544.7" r="9.2"/><circle cx="531.1" cy="540.3" r="9.2"/><circle cx="539.8" cy="552.8" r="9.2"/><circle cx="521.3" cy="559.6" r="9.2"/><circle cx="533.0" cy="569.7" r="9.2"/><circle cx="484.1" cy="555.5" r="9.2"/><circle cx="490.3" cy="566.4" r="9.2"/><circle cx="560.2" cy="567.0" r="9.2"/><circle cx="568.3" cy="561.5" r="9.2"/><circle cx="560.2" cy="582.7" r="9.2"/><circle cx="596.8" cy="568.3" r="9.2"/><circle cx="610.4" cy="567.0" r="9.2"/><circle cx="629.5" cy="586.0" r="9.2"/><circle cx="481.4" cy="592.8" r="9.2"/><circle cx="471.8" cy="600.9" r="9.2"/><circle cx="534.3" cy="622.7" r="9.2"/><circle cx="535.2" cy="623.5" r="9.2"/><circle cx="558.8" cy="600.9" r="9.2"/><circle cx="567.0" cy="610.4" r="9.2"/><circle cx="496.8" cy="647.9" r="9.2"/><circle cx="511.2" cy="652.6" r="9.2"/><circle cx="522.1" cy="659.3" r="9.2"/><circle cx="535.7" cy="641.7" r="9.2"/><circle cx="497.7" cy="667.5" r="9.2"/><circle cx="485.4" cy="683.8" r="9.2"/><circle cx="486.2" cy="684.6" r="9.2"/><circle cx="490.9" cy="694.7" r="9.2"/><circle cx="646.3" cy="493.6" r="9.2"/><circle cx="657.2" cy="496.3" r="9.2"/><circle cx="665.3" cy="509.9" r="9.2"/><circle cx="635.4" cy="541.1" r="9.2"/><circle cx="646.3" cy="561.5" r="9.2"/><circle cx="659.9" cy="553.4" r="9.2"/><circle cx="673.5" cy="496.3" r="9.2"/><circle cx="684.3" cy="493.6" r="9.2"/><circle cx="697.9" cy="485.4" r="9.2"/><circle cx="719.7" cy="485.4" r="9.2"/><circle cx="744.1" cy="480.0" r="9.2"/><circle cx="692.5" cy="507.2" r="9.2"/><circle cx="676.2" cy="520.8" r="9.2"/><circle cx="640.9" cy="528.9" r="9.2"/><circle cx="904.5" cy="768.0" r="9.2"/><circle cx="912.6" cy="773.5" r="9.2"/><circle cx="928.9" cy="776.2" r="9.2"/><circle cx="937.1" cy="787.1" r="9.2"/><circle cx="926.2" cy="746.3" r="9.2"/><circle cx="934.3" cy="757.2" r="9.2"/><circle cx="871.8" cy="776.2" r="9.2"/><circle cx="880.0" cy="778.9" r="9.2"/><circle cx="861.0" cy="792.5" r="9.2"/><circle cx="901.7" cy="789.8" r="9.2"/><circle cx="869.1" cy="808.8" r="9.2"/><circle cx="880.0" cy="814.2" r="9.2"/><circle cx="880.8" cy="815.1" r="9.2"/><circle cx="890.9" cy="819.7" r="9.2"/><circle cx="912.6" cy="806.1" r="9.2"/><circle cx="919.4" cy="814.2" r="9.2"/><circle cx="842.0" cy="815.6" r="9.2"/><circle cx="831.1" cy="827.8" r="9.2"/><circle cx="820.2" cy="836.0" r="9.2"/><circle cx="803.9" cy="817.0" r="9.2"/><circle cx="804.7" cy="817.8" r="9.2"/><circle cx="793.0" cy="808.8" r="9.2"/><circle cx="793.9" cy="809.6" r="9.2"/><circle cx="782.2" cy="803.4" r="9.2"/><circle cx="760.4" cy="811.5" r="9.2"/><circle cx="765.9" cy="825.1" r="9.2"/><circle cx="776.7" cy="830.5" r="9.2"/><circle cx="738.7" cy="800.7" r="9.2"/><circle cx="733.3" cy="814.2" r="9.2"/><circle cx="749.6" cy="833.3" r="9.2"/><circle cx="760.4" cy="841.4" r="9.2"/><circle cx="771.3" cy="846.8" r="9.2"/><circle cx="782.2" cy="855.0" r="9.2"/><circle cx="793.0" cy="841.4" r="9.2"/><circle cx="809.3" cy="849.6" r="9.2"/><circle cx="825.7" cy="844.1" r="9.2"/><circle cx="844.7" cy="836.0" r="9.2"/><circle cx="858.3" cy="830.5" r="9.2"/><circle cx="869.1" cy="833.3" r="9.2"/><circle cx="885.4" cy="836.0" r="9.2"/><circle cx="899.0" cy="841.4" r="9.2"/><circle cx="915.3" cy="850.9" r="9.2"/><circle cx="890.9" cy="852.3" r="9.2"/><circle cx="869.1" cy="860.4" r="9.2"/><circle cx="852.8" cy="865.9" r="9.2"/><circle cx="836.5" cy="857.7" r="9.2"/><circle cx="820.2" cy="860.4" r="9.2"/><circle cx="806.6" cy="868.6" r="9.2"/><circle cx="847.4" cy="876.7" r="9.2"/><circle cx="880.0" cy="876.7" r="9.2"/><circle cx="866.4" cy="874.0" r="9.2"/><circle cx="738.7" cy="876.7" r="9.2"/><circle cx="711.5" cy="871.3" r="9.2"/><circle cx="722.4" cy="855.0" r="9.2"/><circle cx="733.3" cy="860.4" r="9.2"/><circle cx="782.2" cy="874.0" r="9.2"/><circle cx="757.7" cy="865.9" r="9.2"/><circle cx="744.1" cy="846.8" r="9.2"/><circle cx="956.1" cy="781.6" r="9.2"/><circle cx="956.9" cy="782.4" r="9.2"/><circle cx="964.2" cy="792.5" r="9.2"/><circle cx="965.1" cy="793.3" r="9.2"/><circle cx="972.4" cy="806.1" r="9.2"/><circle cx="973.2" cy="806.9" r="9.2"/><circle cx="977.8" cy="814.2" r="9.2"/><circle cx="981.9" cy="774.8" r="9.2"/><circle cx="994.1" cy="797.9" r="9.2"/><circle cx="983.3" cy="827.8" r="9.2"/><circle cx="994.1" cy="830.5" r="9.2"/><circle cx="1007.7" cy="836.0" r="9.2"/><circle cx="975.1" cy="845.5" r="9.2"/><circle cx="983.3" cy="857.7" r="9.2"/><circle cx="1015.9" cy="857.7" r="9.2"/><circle cx="1024.0" cy="868.6" r="9.2"/><circle cx="1021.3" cy="803.4" r="9.2"/><circle cx="1015.9" cy="781.6" r="9.2"/><circle cx="1026.7" cy="792.5" r="9.2"/><circle cx="1024.0" cy="759.9" r="9.2"/><circle cx="1005.0" cy="747.7" r="9.2"/><circle cx="980.5" cy="744.9" r="9.2"/><circle cx="975.1" cy="740.9" r="9.2"/><circle cx="991.4" cy="724.6" r="9.2"/><circle cx="1010.4" cy="724.6" r="9.2"/><circle cx="1021.3" cy="738.2" r="9.2"/><circle cx="956.1" cy="724.6" r="9.2"/><circle cx="961.5" cy="746.3" r="9.2"/><circle cx="956.1" cy="751.7" r="9.2"/><circle cx="956.1" cy="762.6" r="9.2"/><circle cx="1005.0" cy="645.8" r="9.2"/><circle cx="999.6" cy="651.2" r="9.2"/><circle cx="1018.6" cy="632.2" r="9.2"/><circle cx="1029.5" cy="667.5" r="9.2"/><circle cx="988.7" cy="667.5" r="9.2"/><circle cx="999.6" cy="670.2" r="9.2"/><circle cx="1010.4" cy="675.7" r="9.2"/><circle cx="1021.3" cy="681.1" r="9.2"/><circle cx="972.4" cy="675.7" r="9.2"/><circle cx="956.1" cy="678.4" r="9.2"/><circle cx="967.0" cy="692.0" r="9.2"/><circle cx="983.3" cy="686.5" r="9.2"/><circle cx="996.8" cy="697.4" r="9.2"/><circle cx="1010.4" cy="700.1" r="9.2"/><circle cx="1024.0" cy="705.5" r="9.2"/><circle cx="956.1" cy="697.4" r="9.2"/><circle cx="980.5" cy="711.0" r="9.2"/><circle cx="991.4" cy="708.3" r="9.2"/><circle cx="964.2" cy="643.0" r="9.2"/><circle cx="1010.4" cy="607.7" r="9.2"/><circle cx="1021.3" cy="621.3" r="9.2"/><circle cx="1026.7" cy="643.0" r="9.2"/><circle cx="1015.9" cy="656.6" r="9.2"/><circle cx="977.8" cy="653.9" r="9.2"/><circle cx="983.3" cy="697.4" r="9.2"/><circle cx="1005.0" cy="713.7" r="9.2"/><circle cx="1021.3" cy="719.1" r="9.2"/><circle cx="969.7" cy="719.1" r="9.2"/><circle cx="1299.0" cy="493.6" r="9.2"/><circle cx="1324.8" cy="496.3" r="9.2"/><circle cx="1318.0" cy="505.8" r="9.2"/><circle cx="1307.2" cy="530.3" r="9.2"/><circle cx="1328.9" cy="527.6" r="9.2"/><circle cx="1319.4" cy="545.2" r="9.2"/><circle cx="1320.8" cy="556.1" r="9.2"/><circle cx="1307.2" cy="569.7" r="9.2"/><circle cx="1315.3" cy="572.4" r="9.2"/><circle cx="1299.0" cy="580.5" r="9.2"/><circle cx="1297.7" cy="598.2" r="9.2"/><circle cx="1330.3" cy="598.2" r="9.2"/><circle cx="1307.2" cy="613.2" r="9.2"/><circle cx="1312.6" cy="621.3" r="9.2"/><circle cx="1313.4" cy="622.1" r="9.2"/><circle cx="1333.0" cy="626.7" r="9.2"/><circle cx="1296.3" cy="643.0" r="9.2"/><circle cx="1315.3" cy="644.4" r="9.2"/><circle cx="1316.1" cy="645.2" r="9.2"/><circle cx="1293.0" cy="659.3" r="9.2"/><circle cx="1277.8" cy="656.6" r="9.2"/><circle cx="1298.5" cy="684.3" r="9.2"/><circle cx="1307.2" cy="732.7" r="9.2"/><circle cx="1322.1" cy="721.8" r="9.2"/><circle cx="1331.6" cy="736.8" r="9.2"/><circle cx="1328.9" cy="784.9" r="9.2"/><circle cx="1302.6" cy="853.6" r="9.2"/><circle cx="1347.4" cy="781.6" r="9.2"/><circle cx="1347.4" cy="800.7" r="9.2"/><circle cx="1347.4" cy="815.6" r="9.2"/><circle cx="1347.9" cy="816.4" r="9.2"/><circle cx="1347.4" cy="830.5" r="9.2"/><circle cx="1347.4" cy="850.9" r="9.2"/><circle cx="1347.4" cy="857.7" r="9.2"/><circle cx="1347.4" cy="773.5" r="9.2"/><circle cx="1068.0" cy="605.0" r="9.2"/><circle cx="1064.0" cy="606.4" r="9.2"/><circle cx="1101.2" cy="607.7" r="9.2"/><circle cx="1101.2" cy="621.3" r="9.2"/><circle cx="1133.3" cy="614.5" r="9.2"/><circle cx="1144.1" cy="615.9" r="9.2"/><circle cx="1141.4" cy="599.6" r="9.2"/><circle cx="1149.6" cy="605.0" r="9.2"/><circle cx="1157.7" cy="629.5" r="9.2"/><circle cx="1165.9" cy="607.7" r="9.2"/><circle cx="1182.2" cy="610.4" r="9.2"/><circle cx="1190.3" cy="624.0" r="9.2"/><circle cx="1193.0" cy="599.6" r="9.2"/><circle cx="1193.9" cy="600.4" r="9.2"/><circle cx="1203.9" cy="605.0" r="9.2"/><circle cx="1204.7" cy="605.8" r="9.2"/><circle cx="1214.8" cy="615.9" r="9.2"/><circle cx="1229.7" cy="618.6" r="9.2"/><circle cx="1233.8" cy="629.5" r="9.2"/><circle cx="1220.2" cy="594.1" r="9.2"/><circle cx="1221.0" cy="594.9" r="9.2"/><circle cx="1231.1" cy="591.4" r="9.2"/><circle cx="1231.9" cy="592.2" r="9.2"/><circle cx="1247.4" cy="588.7" r="9.2"/><circle cx="1252.8" cy="605.0" r="9.2"/><circle cx="1253.6" cy="605.8" r="9.2"/><circle cx="1255.5" cy="586.0" r="9.2"/><circle cx="1242.0" cy="583.3" r="9.2"/><circle cx="1193.0" cy="583.3" r="9.2"/><circle cx="1184.9" cy="583.3" r="9.2"/><circle cx="1185.7" cy="584.1" r="9.2"/><circle cx="1176.7" cy="594.1" r="9.2"/><circle cx="1177.6" cy="594.9" r="9.2"/><circle cx="1165.9" cy="588.7" r="9.2"/><circle cx="1166.7" cy="589.5" r="9.2"/><circle cx="1155.0" cy="580.5" r="9.2"/><circle cx="1155.8" cy="581.4" r="9.2"/><circle cx="1144.1" cy="575.1" r="9.2"/><circle cx="1144.9" cy="575.9" r="9.2"/><circle cx="1111.5" cy="586.0" r="9.2"/><circle cx="1103.4" cy="588.7" r="9.2"/><circle cx="1097.9" cy="577.8" r="9.2"/><circle cx="1084.3" cy="588.7" r="9.2"/><circle cx="1070.8" cy="577.8" r="9.2"/><circle cx="1057.2" cy="586.0" r="9.2"/><circle cx="1043.6" cy="594.1" r="9.2"/><circle cx="1035.4" cy="607.7" r="9.2"/><circle cx="1046.3" cy="615.9" r="9.2"/><circle cx="1035.4" cy="626.7" r="9.2"/><circle cx="1036.2" cy="627.6" r="9.2"/><circle cx="1049.0" cy="634.9" r="9.2"/><circle cx="1040.9" cy="640.3" r="9.2"/><circle cx="1084.3" cy="634.9" r="9.2"/><circle cx="1085.2" cy="635.7" r="9.2"/><circle cx="1092.5" cy="640.3" r="9.2"/><circle cx="1093.3" cy="641.1" r="9.2"/><circle cx="1103.4" cy="637.6" r="9.2"/><circle cx="1104.2" cy="638.4" r="9.2"/><circle cx="1111.5" cy="643.0" r="9.2"/><circle cx="1112.3" cy="643.9" r="9.2"/><circle cx="1122.4" cy="640.3" r="9.2"/><circle cx="1123.2" cy="641.1" r="9.2"/><circle cx="1127.8" cy="643.0" r="9.2"/><circle cx="1097.9" cy="651.2" r="9.2"/><circle cx="1098.8" cy="652.0" r="9.2"/><circle cx="1108.8" cy="653.9" r="9.2"/><circle cx="1109.6" cy="654.7" r="9.2"/><circle cx="1119.7" cy="653.9" r="9.2"/><circle cx="1145.5" cy="651.2" r="9.2"/><circle cx="1157.7" cy="651.2" r="9.2"/><circle cx="1176.7" cy="643.0" r="9.2"/><circle cx="1177.6" cy="643.9" r="9.2"/><circle cx="1184.9" cy="643.0" r="9.2"/><circle cx="1185.7" cy="643.9" r="9.2"/><circle cx="1171.3" cy="662.1" r="9.2"/><circle cx="1184.9" cy="672.9" r="9.2"/><circle cx="1206.6" cy="637.6" r="9.2"/><circle cx="1203.9" cy="643.0" r="9.2"/><circle cx="1207.2" cy="660.7" r="9.2"/><circle cx="1220.2" cy="632.2" r="9.2"/><circle cx="1228.4" cy="643.0" r="9.2"/><circle cx="1229.2" cy="643.9" r="9.2"/><circle cx="1231.1" cy="648.5" r="9.2"/><circle cx="1239.2" cy="656.6" r="9.2"/><circle cx="1251.5" cy="637.6" r="9.2"/><circle cx="1255.5" cy="643.0" r="9.2"/><circle cx="1230.3" cy="671.6" r="9.2"/><circle cx="1231.1" cy="672.4" r="9.2"/><circle cx="1054.5" cy="667.5" r="9.2"/><circle cx="1055.3" cy="668.3" r="9.2"/><circle cx="1046.3" cy="667.5" r="9.2"/><circle cx="1047.1" cy="668.3" r="9.2"/><circle cx="1083.0" cy="664.8" r="9.2"/><circle cx="1088.4" cy="678.4" r="9.2"/><circle cx="1114.2" cy="677.0" r="9.2"/><circle cx="1130.5" cy="670.2" r="9.2"/><circle cx="1137.3" cy="671.6" r="9.2"/><circle cx="1043.6" cy="697.4" r="9.2"/><circle cx="1065.3" cy="688.7" r="9.2"/><circle cx="1078.9" cy="698.8" r="9.2"/><circle cx="1081.6" cy="711.0" r="9.2"/><circle cx="1130.5" cy="697.4" r="9.2"/><circle cx="1155.5" cy="694.7" r="9.2"/><circle cx="1146.8" cy="706.9" r="9.2"/><circle cx="1186.2" cy="713.7" r="9.2"/><circle cx="1217.0" cy="702.3" r="9.2"/><circle cx="1208.0" cy="716.4" r="9.2"/><circle cx="1243.3" cy="700.1" r="9.2"/><circle cx="1258.8" cy="698.8" r="9.2"/><circle cx="1035.4" cy="724.6" r="9.2"/><circle cx="1065.3" cy="724.6" r="9.2"/><circle cx="1078.9" cy="727.3" r="9.2"/><circle cx="1087.1" cy="713.7" r="9.2"/><circle cx="1100.7" cy="727.3" r="9.2"/><circle cx="1101.5" cy="728.1" r="9.2"/><circle cx="1108.8" cy="724.6" r="9.2"/><circle cx="1126.5" cy="721.8" r="9.2"/><circle cx="1140.1" cy="728.6" r="9.2"/><circle cx="1157.7" cy="728.6" r="9.2"/><circle cx="1183.5" cy="724.6" r="9.2"/><circle cx="1184.3" cy="725.4" r="9.2"/><circle cx="1190.3" cy="721.8" r="9.2"/><circle cx="1258.3" cy="732.7" r="9.2"/><circle cx="1253.4" cy="746.3" r="9.2"/><circle cx="1035.4" cy="738.2" r="9.2"/><circle cx="1065.3" cy="742.2" r="9.2"/><circle cx="1184.1" cy="758.5" r="9.2"/><circle cx="1211.2" cy="764.8" r="9.2"/><circle cx="1107.4" cy="766.7" r="9.2"/><circle cx="1108.3" cy="767.5" r="9.2"/><circle cx="1116.4" cy="766.7" r="9.2"/><circle cx="1117.2" cy="767.5" r="9.2"/><circle cx="1144.1" cy="774.8" r="9.2"/><circle cx="1149.0" cy="769.4" r="9.2"/><circle cx="1149.8" cy="770.2" r="9.2"/><circle cx="1055.8" cy="772.1" r="9.2"/><circle cx="1075.4" cy="776.2" r="9.2"/><circle cx="1032.7" cy="769.4" r="9.2"/><circle cx="1181.4" cy="785.7" r="9.2"/><circle cx="1271.0" cy="785.7" r="9.2"/><circle cx="1092.5" cy="795.2" r="9.2"/><circle cx="1104.7" cy="796.6" r="9.2"/><circle cx="1105.5" cy="797.4" r="9.2"/><circle cx="1092.5" cy="803.4" r="9.2"/><circle cx="1063.4" cy="808.8" r="9.2"/><circle cx="1034.1" cy="808.8" r="9.2"/><circle cx="1034.9" cy="809.6" r="9.2"/><circle cx="1217.5" cy="819.7" r="9.2"/><circle cx="1218.3" cy="820.5" r="9.2"/><circle cx="1185.2" cy="829.7" r="9.2"/><circle cx="1279.5" cy="835.4" r="9.2"/><circle cx="1053.1" cy="831.9" r="9.2"/><circle cx="1130.0" cy="840.1" r="9.2"/><circle cx="1134.1" cy="857.2" r="9.2"/><circle cx="1099.3" cy="852.3" r="9.2"/><circle cx="1042.2" cy="849.6" r="9.2"/><circle cx="1062.6" cy="863.7" r="9.2"/><circle cx="1063.4" cy="864.5" r="9.2"/><circle cx="952.0" cy="129.5" r="9.2"/><circle cx="952.8" cy="130.3" r="9.2"/><circle cx="1019.1" cy="161.5" r="9.2"/><circle cx="782.2" cy="175.7" r="9.2"/><circle cx="798.5" cy="194.1" r="9.2"/><circle cx="776.2" cy="210.4" r="9.2"/><circle cx="924.3" cy="205.0" r="9.2"/><circle cx="916.1" cy="241.1" r="9.2"/><circle cx="811.5" cy="262.9" r="9.2"/><circle cx="937.1" cy="260.7" r="9.2"/><circle cx="915.3" cy="270.2" r="9.2"/><circle cx="926.2" cy="273.5" r="9.2"/><circle cx="908.5" cy="281.6" r="9.2"/><circle cx="805.3" cy="292.0" r="9.2"/><circle cx="762.3" cy="296.8" r="9.2"/><circle cx="858.3" cy="300.1" r="9.2"/><circle cx="859.1" cy="300.9" r="9.2"/><circle cx="950.7" cy="283.8" r="9.2"/><circle cx="949.3" cy="294.7" r="9.2"/><circle cx="950.1" cy="295.5" r="9.2"/><circle cx="933.0" cy="303.4" r="9.2"/><circle cx="942.5" cy="308.3" r="9.2"/><circle cx="957.4" cy="302.8" r="9.2"/><circle cx="884.1" cy="316.4" r="9.2"/><circle cx="889.5" cy="319.1" r="9.2"/><circle cx="875.9" cy="327.8" r="9.2"/><circle cx="909.9" cy="329.5" r="9.2"/><circle cx="937.1" cy="332.7" r="9.2"/><circle cx="928.9" cy="336.8" r="9.2"/><circle cx="927.6" cy="347.7" r="9.2"/><circle cx="758.5" cy="340.9" r="9.2"/><circle cx="840.6" cy="347.7" r="9.2"/><circle cx="841.4" cy="348.5" r="9.2"/><circle cx="850.1" cy="344.9" r="9.2"/><circle cx="856.9" cy="338.2" r="9.2"/><circle cx="867.8" cy="350.4" r="9.2"/><circle cx="975.1" cy="271.6" r="9.2"/><circle cx="979.2" cy="286.5" r="9.2"/><circle cx="996.8" cy="297.4" r="9.2"/><circle cx="1006.4" cy="262.1" r="9.2"/><circle cx="1010.4" cy="271.6" r="9.2"/><circle cx="1013.2" cy="292.0" r="9.2"/><circle cx="1014.0" cy="292.8" r="9.2"/><circle cx="992.0" cy="232.2" r="9.2"/><circle cx="1009.1" cy="228.9" r="9.2"/><circle cx="1026.7" cy="234.9" r="9.2"/><circle cx="1026.7" cy="205.0" r="9.2"/><circle cx="1027.6" cy="205.8" r="9.2"/><circle cx="1021.3" cy="206.4" r="9.2"/><circle cx="1029.5" cy="278.4" r="9.2"/><circle cx="1024.0" cy="319.1" r="9.2"/><circle cx="975.1" cy="332.7" r="9.2"/><circle cx="958.8" cy="344.9" r="9.2"/><circle cx="959.6" cy="345.8" r="9.2"/><circle cx="964.2" cy="349.0" r="9.2"/><circle cx="981.9" cy="347.7" r="9.2"/><circle cx="998.2" cy="347.7" r="9.2"/><circle cx="1006.4" cy="336.8" r="9.2"/><circle cx="1015.9" cy="335.4" r="9.2"/><circle cx="1016.7" cy="336.2" r="9.2"/><circle cx="1021.3" cy="351.7" r="9.2"/><circle cx="639.5" cy="390.3" r="9.2"/><circle cx="682.4" cy="397.1" r="9.2"/><circle cx="640.3" cy="417.8" r="9.2"/><circle cx="726.2" cy="385.7" r="9.2"/><circle cx="733.3" cy="411.0" r="9.2"/><circle cx="768.0" cy="366.7" r="9.2"/><circle cx="781.6" cy="362.6" r="9.2"/><circle cx="789.0" cy="377.6" r="9.2"/><circle cx="817.5" cy="376.2" r="9.2"/><circle cx="831.1" cy="383.0" r="9.2"/><circle cx="859.6" cy="377.6" r="9.2"/><circle cx="900.4" cy="365.3" r="9.2"/><circle cx="768.0" cy="400.7" r="9.2"/><circle cx="780.8" cy="404.7" r="9.2"/><circle cx="781.6" cy="405.5" r="9.2"/><circle cx="784.9" cy="403.4" r="9.2"/><circle cx="771.3" cy="418.3" r="9.2"/><circle cx="779.5" cy="419.7" r="9.2"/><circle cx="780.3" cy="420.5" r="9.2"/><circle cx="846.0" cy="392.5" r="9.2"/><circle cx="844.7" cy="402.0" r="9.2"/><circle cx="866.4" cy="404.7" r="9.2"/><circle cx="877.3" cy="408.8" r="9.2"/><circle cx="855.5" cy="415.6" r="9.2"/><circle cx="861.0" cy="425.1" r="9.2"/><circle cx="814.8" cy="392.5" r="9.2"/><circle cx="815.6" cy="393.3" r="9.2"/><circle cx="812.1" cy="403.4" r="9.2"/><circle cx="803.9" cy="410.2" r="9.2"/><circle cx="809.3" cy="423.8" r="9.2"/><circle cx="836.5" cy="433.3" r="9.2"/><circle cx="803.9" cy="438.7" r="9.2"/><circle cx="744.1" cy="444.1" r="9.2"/><circle cx="762.3" cy="456.4" r="9.2"/><circle cx="656.4" cy="451.5" r="9.2"/><circle cx="692.0" cy="451.5" r="9.2"/><circle cx="699.3" cy="457.7" r="9.2"/><circle cx="700.1" cy="458.5" r="9.2"/><circle cx="678.9" cy="467.2" r="9.2"/><circle cx="676.2" cy="474.0" r="9.2"/><circle cx="708.8" cy="476.7" r="9.2"/><circle cx="733.3" cy="472.7" r="9.2"/><circle cx="749.6" cy="468.6" r="9.2"/><circle cx="630.0" cy="480.0" r="9.2"/><circle cx="1068.0" cy="129.5" r="9.2"/><circle cx="1068.9" cy="130.0" r="9.2"/><circle cx="1157.2" cy="129.5" r="9.2"/><circle cx="1169.9" cy="129.5" r="9.2"/><circle cx="1187.1" cy="129.5" r="9.2"/><circle cx="1199.8" cy="129.5" r="9.2"/><circle cx="1209.3" cy="129.5" r="9.2"/><circle cx="1210.2" cy="129.7" r="9.2"/><circle cx="1212.1" cy="129.5" r="9.2"/><circle cx="1242.0" cy="129.5" r="9.2"/><circle cx="1242.8" cy="129.7" r="9.2"/><circle cx="1250.1" cy="129.5" r="9.2"/><circle cx="1100.7" cy="160.2" r="9.2"/><circle cx="1052.6" cy="179.2" r="9.2"/><circle cx="1042.2" cy="191.4" r="9.2"/><circle cx="1074.8" cy="209.9" r="9.2"/><circle cx="1052.6" cy="223.5" r="9.2"/><circle cx="1053.4" cy="224.3" r="9.2"/><circle cx="1036.8" cy="213.2" r="9.2"/><circle cx="1134.1" cy="170.5" r="9.2"/><circle cx="1171.3" cy="175.1" r="9.2"/><circle cx="1184.9" cy="169.7" r="9.2"/><circle cx="1199.8" cy="153.4" r="9.2"/><circle cx="1218.0" cy="154.7" r="9.2"/><circle cx="1229.7" cy="161.5" r="9.2"/><circle cx="1231.1" cy="179.2" r="9.2"/><circle cx="1250.1" cy="164.2" r="9.2"/><circle cx="1322.1" cy="146.6" r="9.2"/><circle cx="1322.1" cy="164.2" r="9.2"/><circle cx="1319.4" cy="179.2" r="9.2"/><circle cx="1258.3" cy="147.9" r="9.2"/><circle cx="1119.7" cy="224.0" r="9.2"/><circle cx="1129.2" cy="221.8" r="9.2"/><circle cx="1130.0" cy="222.7" r="9.2"/><circle cx="1119.7" cy="244.4" r="9.2"/><circle cx="1059.9" cy="249.8" r="9.2"/><circle cx="1072.1" cy="245.8" r="9.2"/><circle cx="1091.1" cy="247.9" r="9.2"/><circle cx="1125.1" cy="267.5" r="9.2"/><circle cx="1046.3" cy="272.9" r="9.2"/><circle cx="1097.9" cy="274.3" r="9.2"/><circle cx="570.5" cy="129.5" r="9.2"/><circle cx="514.5" cy="236.0" r="9.2"/><circle cx="555.5" cy="240.5" r="9.2"/><circle cx="468.0" cy="254.5" r="9.2"/><circle cx="471.5" cy="290.0" r="9.2"/><circle cx="442.5" cy="401.0" r="9.2"/><circle cx="620.0" cy="422.5" r="9.2"/><circle cx="458.5" cy="445.5" r="9.2"/><circle cx="1347.6" cy="129.0" r="9.2"/><circle cx="1347.6" cy="133.6" r="9.2"/><circle cx="1347.6" cy="137.4" r="9.2"/><circle cx="1347.6" cy="143.6" r="9.2"/><circle cx="1347.6" cy="147.0" r="9.2"/><circle cx="1347.6" cy="152.7" r="9.2"/><circle cx="1347.6" cy="157.5" r="9.2"/><circle cx="1347.6" cy="160.8" r="9.2"/><circle cx="1347.6" cy="166.3" r="9.2"/><circle cx="1347.6" cy="169.5" r="9.2"/><circle cx="1347.6" cy="174.7" r="9.2"/><circle cx="1347.6" cy="178.0" r="9.2"/><circle cx="1347.6" cy="181.5" r="9.2"/><circle cx="1347.6" cy="186.6" r="9.2"/><circle cx="1347.6" cy="193.7" r="9.2"/><circle cx="1347.6" cy="197.4" r="9.2"/><circle cx="1347.6" cy="201.5" r="9.2"/><circle cx="1347.6" cy="207.6" r="9.2"/><circle cx="1347.6" cy="215.4" r="9.2"/><circle cx="1347.6" cy="221.2" r="9.2"/><circle cx="1347.6" cy="226.2" r="9.2"/><circle cx="1347.6" cy="234.1" r="9.2"/><circle cx="1347.6" cy="237.3" r="9.2"/><circle cx="1347.6" cy="244.6" r="9.2"/><circle cx="1347.6" cy="249.1" r="9.2"/><circle cx="1347.6" cy="252.8" r="9.2"/><circle cx="1347.6" cy="256.4" r="9.2"/><circle cx="1347.6" cy="260.9" r="9.2"/><circle cx="1347.6" cy="268.0" r="9.2"/><circle cx="1347.6" cy="271.9" r="9.2"/><circle cx="1347.6" cy="277.8" r="9.2"/><circle cx="1347.6" cy="284.0" r="9.2"/><circle cx="1347.6" cy="288.9" r="9.2"/><circle cx="1347.6" cy="294.6" r="9.2"/><circle cx="1347.6" cy="297.9" r="9.2"/><circle cx="1347.6" cy="301.2" r="9.2"/><circle cx="1347.6" cy="305.3" r="9.2"/><circle cx="1347.6" cy="311.7" r="9.2"/><circle cx="1347.6" cy="316.8" r="9.2"/><circle cx="1347.6" cy="321.4" r="9.2"/><circle cx="1347.6" cy="327.3" r="9.2"/><circle cx="1347.6" cy="332.6" r="9.2"/><circle cx="1347.6" cy="337.1" r="9.2"/><circle cx="1347.6" cy="344.0" r="9.2"/><circle cx="1347.6" cy="350.5" r="9.2"/><circle cx="1347.6" cy="354.7" r="9.2"/><circle cx="1347.6" cy="360.6" r="9.2"/><circle cx="1347.6" cy="366.2" r="9.2"/><circle cx="1347.6" cy="373.6" r="9.2"/><circle cx="1347.6" cy="380.3" r="9.2"/><circle cx="1347.6" cy="384.7" r="9.2"/><circle cx="1347.6" cy="392.6" r="9.2"/><circle cx="1347.6" cy="396.2" r="9.2"/><circle cx="1347.6" cy="401.3" r="9.2"/><circle cx="1347.6" cy="408.1" r="9.2"/><circle cx="1347.6" cy="411.8" r="9.2"/><circle cx="1347.6" cy="417.3" r="9.2"/><circle cx="1347.6" cy="420.5" r="9.2"/><circle cx="1347.6" cy="426.8" r="9.2"/><circle cx="1347.6" cy="433.6" r="9.2"/><circle cx="1347.6" cy="439.5" r="9.2"/><circle cx="1347.6" cy="446.9" r="9.2"/><circle cx="1347.6" cy="451.5" r="9.2"/><circle cx="1347.6" cy="457.9" r="9.2"/><circle cx="1347.6" cy="463.9" r="9.2"/><circle cx="1347.6" cy="469.8" r="9.2"/><circle cx="1347.6" cy="475.1" r="9.2"/><circle cx="1347.6" cy="482.3" r="9.2"/><circle cx="1347.6" cy="490.0" r="9.2"/><circle cx="1347.6" cy="495.4" r="9.2"/><circle cx="1347.6" cy="501.7" r="9.2"/><circle cx="1347.6" cy="505.0" r="9.2"/><circle cx="1347.6" cy="511.5" r="9.2"/><circle cx="1347.6" cy="517.7" r="9.2"/><circle cx="1347.6" cy="525.7" r="9.2"/><circle cx="1347.6" cy="532.8" r="9.2"/><circle cx="1347.6" cy="537.2" r="9.2"/><circle cx="1347.6" cy="542.2" r="9.2"/><circle cx="1347.6" cy="548.5" r="9.2"/><circle cx="1347.6" cy="551.6" r="9.2"/><circle cx="1347.6" cy="556.9" r="9.2"/><circle cx="1347.6" cy="560.8" r="9.2"/><circle cx="1347.6" cy="564.4" r="9.2"/><circle cx="1347.6" cy="567.7" r="9.2"/><circle cx="1347.6" cy="574.5" r="9.2"/><circle cx="1347.6" cy="578.1" r="9.2"/><circle cx="1347.6" cy="582.4" r="9.2"/><circle cx="1347.6" cy="587.3" r="9.2"/><circle cx="1347.6" cy="594.7" r="9.2"/><circle cx="1347.6" cy="598.1" r="9.2"/><circle cx="1347.6" cy="603.3" r="9.2"/><circle cx="1347.6" cy="609.1" r="9.2"/><circle cx="1347.6" cy="616.5" r="9.2"/><circle cx="1347.6" cy="623.6" r="9.2"/><circle cx="1347.6" cy="630.9" r="9.2"/><circle cx="1347.6" cy="635.3" r="9.2"/><circle cx="1347.6" cy="640.4" r="9.2"/><circle cx="1347.6" cy="645.2" r="9.2"/><circle cx="1347.6" cy="652.6" r="9.2"/><circle cx="1347.6" cy="660.4" r="9.2"/><circle cx="1347.6" cy="664.1" r="9.2"/><circle cx="1347.6" cy="668.0" r="9.2"/><circle cx="1347.6" cy="672.2" r="9.2"/><circle cx="1347.6" cy="676.4" r="9.2"/><circle cx="1347.6" cy="681.8" r="9.2"/><circle cx="1347.6" cy="687.7" r="9.2"/><circle cx="1347.6" cy="692.0" r="9.2"/><circle cx="1347.6" cy="695.1" r="9.2"/><circle cx="1347.6" cy="700.2" r="9.2"/><circle cx="1347.6" cy="705.0" r="9.2"/><circle cx="1347.6" cy="710.8" r="9.2"/><circle cx="1347.6" cy="718.6" r="9.2"/><circle cx="1347.6" cy="725.1" r="9.2"/><circle cx="1347.6" cy="730.6" r="9.2"/><circle cx="1347.6" cy="736.7" r="9.2"/><circle cx="1347.6" cy="743.1" r="9.2"/><circle cx="1347.6" cy="746.4" r="9.2"/><circle cx="1347.6" cy="753.9" r="9.2"/><circle cx="1347.6" cy="760.8" r="9.2"/><circle cx="1347.6" cy="768.1" r="9.2"/><circle cx="1268.0" cy="129.0" r="9.2"/><circle cx="1273.0" cy="129.0" r="9.2"/><circle cx="1278.0" cy="129.0" r="9.2"/><circle cx="1281.5" cy="129.0" r="9.2"/><circle cx="1287.6" cy="129.0" r="9.2"/><circle cx="1291.0" cy="129.0" r="9.2"/><circle cx="1294.3" cy="129.0" r="9.2"/><circle cx="1298.3" cy="129.0" r="9.2"/><circle cx="1302.1" cy="129.0" r="9.2"/><circle cx="1306.8" cy="129.0" r="9.2"/><circle cx="1310.1" cy="129.0" r="9.2"/><circle cx="1313.1" cy="129.0" r="9.2"/><circle cx="1316.9" cy="129.0" r="9.2"/><circle cx="1320.4" cy="129.0" r="9.2"/><circle cx="1325.2" cy="129.0" r="9.2"/><circle cx="1328.3" cy="129.0" r="9.2"/><circle cx="1335.7" cy="129.0" r="9.2"/>
</g>
<circle cx="472.6" cy="1059.5" r="16.8" fill="#ff0000"/>
<path class="g" d="M252.4 74.0V1281.9M598.8 74.0V1281.9M945.1 74.0V1281.9M1291.5 74.0V1281.9M207.4 1248.3H1402.0M207.4 1071.3H1402.0M207.4 894.3H1402.0M207.4 717.3H1402.0M207.4 540.4H1402.0M207.4 363.4H1402.0M207.4 186.4H1402.0"/>
<line x1="258.1" y1="1147.5" x2="1350.8" y2="267.7" stroke="#ff0000" stroke-width="9.4"/>
</g>
<path class="k" d="M207.4 72.4V1283.5500000000002M205.75 1281.9H1403.7M252.4 1281.9v15.2M598.8 1281.9v15.2M945.1 1281.9v15.2M1291.5 1281.9v15.2M207.4 1248.3h-15.2M207.4 1071.3h-15.2M207.4 894.3h-15.2M207.4 717.3h-15.2M207.4 540.4h-15.2M207.4 363.4h-15.2M207.4 186.4h-15.2"/>
<text font-size="100" transform="matrix(0.6298 0 0 0.6239 235.34 1357.28)">0</text>
<text font-size="100" transform="matrix(0.6340 0 0 0.6239 563.46 1357.28)">10</text>
<text font-size="100" transform="matrix(0.6551 0 0 0.6239 908.20 1357.28)">20</text>
<text font-size="100" transform="matrix(0.6421 0 0 0.6239 1256.09 1357.28)">30</text>
<text font-size="100" transform="matrix(0.6298 0 0 0.6211 141.34 1272.38)">0</text>
<text font-size="100" transform="matrix(0.5992 0 0 0.6300 142.41 1095.39)">5</text>
<text font-size="100" transform="matrix(0.6390 0 0 0.6211 105.33 918.41)">10</text>
<text font-size="100" transform="matrix(0.6268 0 0 0.6300 105.72 741.42)">15</text>
<text font-size="100" transform="matrix(0.6375 0 0 0.6211 104.79 564.44)">20</text>
<text font-size="100" transform="matrix(0.6422 0 0 0.6211 104.46 387.45)">25</text>
<text font-size="100" transform="matrix(0.6402 0 0 0.6211 105.19 210.47)">30</text>
<text font-size="100" transform="matrix(0.6360 0 0 0.6053 625.48 1430.09)">RegionIndex</text>
<g transform="translate(81.3 804.6) rotate(-90)"><text font-size="100" transform="matrix(0.6403 0 0 0.6116 -5.26 -0.76)">DizIndex</text></g>
<text font-size="100" transform="matrix(0.6475 0 0 0.6163 566.18 75.18)">Pvalue:0.00</text>
<text font-size="100" transform="matrix(0.6348 0 0 0.6197 1164.09 75.18)">Pearson:0.91</text>
<rect x="234.5" y="100.9" width="237.2" height="94.4" rx="8.3" ry="8.3" fill="#fff" fill-opacity=".8" stroke="#cccccc" stroke-opacity=".8" stroke-width="4.17"/>
<circle cx="269.5" cy="149.3" r="16.8" fill="#ff0000"/>
<text font-size="100" transform="matrix(0.5292 0 0 0.5338 303.56 163.37)">EGR1</text>
</svg></body></html>
